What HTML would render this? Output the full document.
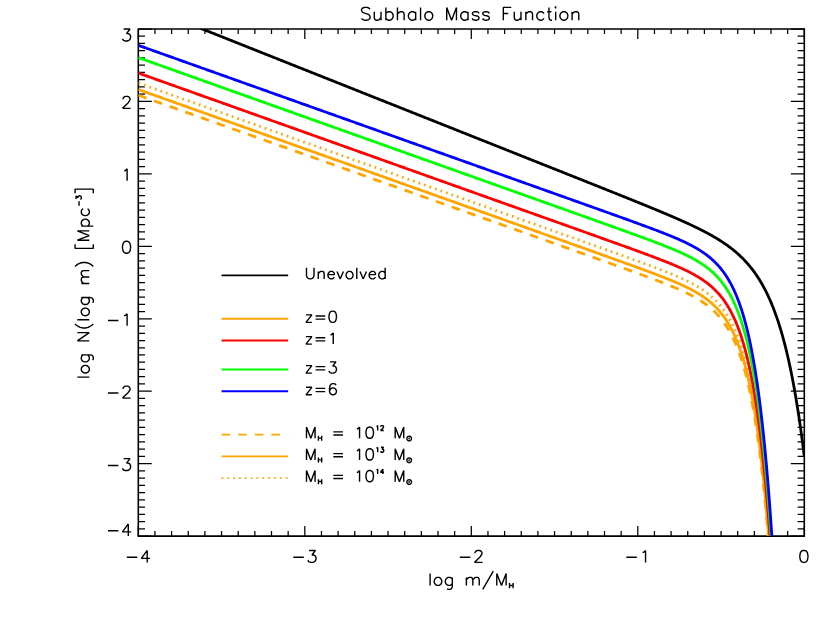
<!DOCTYPE html>
<html><head><meta charset="utf-8"><title>Subhalo Mass Function</title>
<style>html,body{margin:0;padding:0;background:#fff;font-family:"Liberation Sans",sans-serif}svg{display:block}</style></head><body>
<svg width="830" height="624" viewBox="0 0 830 624">
<rect width="830" height="624" fill="#fff"/>
<defs><clipPath id="c"><rect x="138.30" y="29.00" width="666.70" height="507.10"/></clipPath></defs>
<path d="M138.30 29.00 H804.30 V536.10 H138.30 Z" fill="none" stroke="#000" stroke-width="1.6"/>
<path d="M138.30 536.10 v-10.00 M138.30 29.00 v10.00 M154.95 536.10 v-5.00 M154.95 29.00 v5.00 M171.60 536.10 v-5.00 M171.60 29.00 v5.00 M188.25 536.10 v-5.00 M188.25 29.00 v5.00 M204.90 536.10 v-5.00 M204.90 29.00 v5.00 M221.55 536.10 v-5.00 M221.55 29.00 v5.00 M238.20 536.10 v-5.00 M238.20 29.00 v5.00 M254.85 536.10 v-5.00 M254.85 29.00 v5.00 M271.50 536.10 v-5.00 M271.50 29.00 v5.00 M288.15 536.10 v-5.00 M288.15 29.00 v5.00 M304.80 536.10 v-10.00 M304.80 29.00 v10.00 M321.45 536.10 v-5.00 M321.45 29.00 v5.00 M338.10 536.10 v-5.00 M338.10 29.00 v5.00 M354.75 536.10 v-5.00 M354.75 29.00 v5.00 M371.40 536.10 v-5.00 M371.40 29.00 v5.00 M388.05 536.10 v-5.00 M388.05 29.00 v5.00 M404.70 536.10 v-5.00 M404.70 29.00 v5.00 M421.35 536.10 v-5.00 M421.35 29.00 v5.00 M438.00 536.10 v-5.00 M438.00 29.00 v5.00 M454.65 536.10 v-5.00 M454.65 29.00 v5.00 M471.30 536.10 v-10.00 M471.30 29.00 v10.00 M487.95 536.10 v-5.00 M487.95 29.00 v5.00 M504.60 536.10 v-5.00 M504.60 29.00 v5.00 M521.25 536.10 v-5.00 M521.25 29.00 v5.00 M537.90 536.10 v-5.00 M537.90 29.00 v5.00 M554.55 536.10 v-5.00 M554.55 29.00 v5.00 M571.20 536.10 v-5.00 M571.20 29.00 v5.00 M587.85 536.10 v-5.00 M587.85 29.00 v5.00 M604.50 536.10 v-5.00 M604.50 29.00 v5.00 M621.15 536.10 v-5.00 M621.15 29.00 v5.00 M637.80 536.10 v-10.00 M637.80 29.00 v10.00 M654.45 536.10 v-5.00 M654.45 29.00 v5.00 M671.10 536.10 v-5.00 M671.10 29.00 v5.00 M687.75 536.10 v-5.00 M687.75 29.00 v5.00 M704.40 536.10 v-5.00 M704.40 29.00 v5.00 M721.05 536.10 v-5.00 M721.05 29.00 v5.00 M737.70 536.10 v-5.00 M737.70 29.00 v5.00 M754.35 536.10 v-5.00 M754.35 29.00 v5.00 M771.00 536.10 v-5.00 M771.00 29.00 v5.00 M787.65 536.10 v-5.00 M787.65 29.00 v5.00 M804.30 536.10 v-10.00 M804.30 29.00 v10.00 M138.30 536.10 h13.50 M804.30 536.10 h-13.50 M138.30 528.86 h6.70 M804.30 528.86 h-6.70 M138.30 521.61 h6.70 M804.30 521.61 h-6.70 M138.30 514.37 h6.70 M804.30 514.37 h-6.70 M138.30 507.12 h6.70 M804.30 507.12 h-6.70 M138.30 499.88 h6.70 M804.30 499.88 h-6.70 M138.30 492.63 h6.70 M804.30 492.63 h-6.70 M138.30 485.39 h6.70 M804.30 485.39 h-6.70 M138.30 478.15 h6.70 M804.30 478.15 h-6.70 M138.30 470.90 h6.70 M804.30 470.90 h-6.70 M138.30 463.66 h13.50 M804.30 463.66 h-13.50 M138.30 456.41 h6.70 M804.30 456.41 h-6.70 M138.30 449.17 h6.70 M804.30 449.17 h-6.70 M138.30 441.92 h6.70 M804.30 441.92 h-6.70 M138.30 434.68 h6.70 M804.30 434.68 h-6.70 M138.30 427.44 h6.70 M804.30 427.44 h-6.70 M138.30 420.19 h6.70 M804.30 420.19 h-6.70 M138.30 412.95 h6.70 M804.30 412.95 h-6.70 M138.30 405.70 h6.70 M804.30 405.70 h-6.70 M138.30 398.46 h6.70 M804.30 398.46 h-6.70 M138.30 391.21 h13.50 M804.30 391.21 h-13.50 M138.30 383.97 h6.70 M804.30 383.97 h-6.70 M138.30 376.73 h6.70 M804.30 376.73 h-6.70 M138.30 369.48 h6.70 M804.30 369.48 h-6.70 M138.30 362.24 h6.70 M804.30 362.24 h-6.70 M138.30 354.99 h6.70 M804.30 354.99 h-6.70 M138.30 347.75 h6.70 M804.30 347.75 h-6.70 M138.30 340.50 h6.70 M804.30 340.50 h-6.70 M138.30 333.26 h6.70 M804.30 333.26 h-6.70 M138.30 326.02 h6.70 M804.30 326.02 h-6.70 M138.30 318.77 h13.50 M804.30 318.77 h-13.50 M138.30 311.53 h6.70 M804.30 311.53 h-6.70 M138.30 304.28 h6.70 M804.30 304.28 h-6.70 M138.30 297.04 h6.70 M804.30 297.04 h-6.70 M138.30 289.79 h6.70 M804.30 289.79 h-6.70 M138.30 282.55 h6.70 M804.30 282.55 h-6.70 M138.30 275.31 h6.70 M804.30 275.31 h-6.70 M138.30 268.06 h6.70 M804.30 268.06 h-6.70 M138.30 260.82 h6.70 M804.30 260.82 h-6.70 M138.30 253.57 h6.70 M804.30 253.57 h-6.70 M138.30 246.33 h13.50 M804.30 246.33 h-13.50 M138.30 239.08 h6.70 M804.30 239.08 h-6.70 M138.30 231.84 h6.70 M804.30 231.84 h-6.70 M138.30 224.60 h6.70 M804.30 224.60 h-6.70 M138.30 217.35 h6.70 M804.30 217.35 h-6.70 M138.30 210.11 h6.70 M804.30 210.11 h-6.70 M138.30 202.86 h6.70 M804.30 202.86 h-6.70 M138.30 195.62 h6.70 M804.30 195.62 h-6.70 M138.30 188.37 h6.70 M804.30 188.37 h-6.70 M138.30 181.13 h6.70 M804.30 181.13 h-6.70 M138.30 173.89 h13.50 M804.30 173.89 h-13.50 M138.30 166.64 h6.70 M804.30 166.64 h-6.70 M138.30 159.40 h6.70 M804.30 159.40 h-6.70 M138.30 152.15 h6.70 M804.30 152.15 h-6.70 M138.30 144.91 h6.70 M804.30 144.91 h-6.70 M138.30 137.66 h6.70 M804.30 137.66 h-6.70 M138.30 130.42 h6.70 M804.30 130.42 h-6.70 M138.30 123.18 h6.70 M804.30 123.18 h-6.70 M138.30 115.93 h6.70 M804.30 115.93 h-6.70 M138.30 108.69 h6.70 M804.30 108.69 h-6.70 M138.30 101.44 h13.50 M804.30 101.44 h-13.50 M138.30 94.20 h6.70 M804.30 94.20 h-6.70 M138.30 86.95 h6.70 M804.30 86.95 h-6.70 M138.30 79.71 h6.70 M804.30 79.71 h-6.70 M138.30 72.47 h6.70 M804.30 72.47 h-6.70 M138.30 65.22 h6.70 M804.30 65.22 h-6.70 M138.30 57.98 h6.70 M804.30 57.98 h-6.70 M138.30 50.73 h6.70 M804.30 50.73 h-6.70 M138.30 43.49 h6.70 M804.30 43.49 h-6.70 M138.30 36.24 h6.70 M804.30 36.24 h-6.70 M138.30 29.00 h13.50 M804.30 29.00 h-13.50" fill="none" stroke="#000" stroke-width="1.25" stroke-linecap="butt"/>
<g clip-path="url(#c)" fill="none" stroke-width="2.80" stroke-linejoin="round">
<path d="M138.30 95.20 L139.04 95.46 L139.78 95.73 L140.52 95.99 L141.26 96.25 L142.00 96.52 L142.74 96.78 L143.48 97.05 L144.22 97.31 L144.96 97.57 L145.70 97.84 L146.44 98.10 L147.18 98.36 L147.92 98.63 L148.66 98.89 L149.40 99.15 L150.14 99.42 L150.88 99.68 L151.62 99.95 L152.36 100.21 L153.10 100.47 L153.84 100.74 L154.58 101.00 L155.32 101.26 L156.06 101.53 L156.80 101.79 L157.54 102.06 L158.28 102.32 L159.02 102.58 L159.76 102.85 L160.50 103.11 L161.24 103.37 L161.98 103.64 L162.72 103.90 L163.46 104.16 L164.20 104.43 L164.94 104.69 L165.68 104.96 L166.42 105.22 L167.16 105.48 L167.90 105.75 L168.64 106.01 L169.38 106.27 L170.12 106.54 L170.86 106.80 L171.60 107.06 L172.34 107.33 L173.08 107.59 L173.82 107.86 L174.56 108.12 L175.30 108.38 L176.04 108.65 L176.78 108.91 L177.52 109.17 L178.26 109.44 L179.00 109.70 L179.74 109.97 L180.48 110.23 L181.22 110.49 L181.96 110.76 L182.70 111.02 L183.44 111.28 L184.18 111.55 L184.92 111.81 L185.66 112.07 L186.40 112.34 L187.14 112.60 L187.88 112.87 L188.62 113.13 L189.36 113.39 L190.10 113.66 L190.84 113.92 L191.58 114.18 L192.32 114.45 L193.06 114.71 L193.80 114.97 L194.54 115.24 L195.28 115.50 L196.02 115.77 L196.76 116.03 L197.50 116.29 L198.24 116.56 L198.98 116.82 L199.72 117.08 L200.46 117.35 L201.20 117.61 L201.94 117.87 L202.68 118.14 L203.42 118.40 L204.16 118.67 L204.90 118.93 L205.64 119.19 L206.38 119.46 L207.12 119.72 L207.86 119.98 L208.60 120.25 L209.34 120.51 L210.08 120.78 L210.82 121.04 L211.56 121.30 L212.30 121.57 L213.04 121.83 L213.78 122.09 L214.52 122.36 L215.26 122.62 L216.00 122.88 L216.74 123.15 L217.48 123.41 L218.22 123.68 L218.96 123.94 L219.70 124.20 L220.44 124.47 L221.18 124.73 L221.92 124.99 L222.66 125.26 L223.40 125.52 L224.14 125.78 L224.88 126.05 L225.62 126.31 L226.36 126.58 L227.10 126.84 L227.84 127.10 L228.58 127.37 L229.32 127.63 L230.06 127.89 L230.80 128.16 L231.54 128.42 L232.28 128.69 L233.02 128.95 L233.76 129.21 L234.50 129.48 L235.24 129.74 L235.98 130.00 L236.72 130.27 L237.46 130.53 L238.20 130.79 L238.94 131.06 L239.68 131.32 L240.42 131.59 L241.16 131.85 L241.90 132.11 L242.64 132.38 L243.38 132.64 L244.12 132.90 L244.86 133.17 L245.60 133.43 L246.34 133.69 L247.08 133.96 L247.82 134.22 L248.56 134.49 L249.30 134.75 L250.04 135.01 L250.78 135.28 L251.52 135.54 L252.26 135.80 L253.00 136.07 L253.74 136.33 L254.48 136.59 L255.22 136.86 L255.96 137.12 L256.70 137.39 L257.44 137.65 L258.18 137.91 L258.92 138.18 L259.66 138.44 L260.40 138.70 L261.14 138.97 L261.88 139.23 L262.62 139.50 L263.36 139.76 L264.10 140.02 L264.84 140.29 L265.58 140.55 L266.32 140.81 L267.06 141.08 L267.80 141.34 L268.54 141.60 L269.28 141.87 L270.02 142.13 L270.76 142.40 L271.50 142.66 L272.24 142.92 L272.98 143.19 L273.72 143.45 L274.46 143.71 L275.20 143.98 L275.94 144.24 L276.68 144.50 L277.42 144.77 L278.16 145.03 L278.90 145.30 L279.64 145.56 L280.38 145.82 L281.12 146.09 L281.86 146.35 L282.60 146.61 L283.34 146.88 L284.08 147.14 L284.82 147.41 L285.56 147.67 L286.30 147.93 L287.04 148.20 L287.78 148.46 L288.52 148.72 L289.26 148.99 L290.00 149.25 L290.74 149.51 L291.48 149.78 L292.22 150.04 L292.96 150.31 L293.70 150.57 L294.44 150.83 L295.18 151.10 L295.92 151.36 L296.66 151.62 L297.40 151.89 L298.14 152.15 L298.88 152.41 L299.62 152.68 L300.36 152.94 L301.10 153.21 L301.84 153.47 L302.58 153.73 L303.32 154.00 L304.06 154.26 L304.80 154.52 L305.54 154.79 L306.28 155.05 L307.02 155.31 L307.76 155.58 L308.50 155.84 L309.24 156.11 L309.98 156.37 L310.72 156.63 L311.46 156.90 L312.20 157.16 L312.94 157.42 L313.68 157.69 L314.42 157.95 L315.16 158.22 L315.90 158.48 L316.64 158.74 L317.38 159.01 L318.12 159.27 L318.86 159.53 L319.60 159.80 L320.34 160.06 L321.08 160.32 L321.82 160.59 L322.56 160.85 L323.30 161.12 L324.04 161.38 L324.78 161.64 L325.52 161.91 L326.26 162.17 L327.00 162.43 L327.74 162.70 L328.48 162.96 L329.22 163.22 L329.96 163.49 L330.70 163.75 L331.44 164.02 L332.18 164.28 L332.92 164.54 L333.66 164.81 L334.40 165.07 L335.14 165.33 L335.88 165.60 L336.62 165.86 L337.36 166.13 L338.10 166.39 L338.84 166.65 L339.58 166.92 L340.32 167.18 L341.06 167.44 L341.80 167.71 L342.54 167.97 L343.28 168.23 L344.02 168.50 L344.76 168.76 L345.50 169.03 L346.24 169.29 L346.98 169.55 L347.72 169.82 L348.46 170.08 L349.20 170.34 L349.94 170.61 L350.68 170.87 L351.42 171.13 L352.16 171.40 L352.90 171.66 L353.64 171.93 L354.38 172.19 L355.12 172.45 L355.86 172.72 L356.60 172.98 L357.34 173.24 L358.08 173.51 L358.82 173.77 L359.56 174.03 L360.30 174.30 L361.04 174.56 L361.78 174.83 L362.52 175.09 L363.26 175.35 L364.00 175.62 L364.74 175.88 L365.48 176.14 L366.22 176.41 L366.96 176.67 L367.70 176.94 L368.44 177.20 L369.18 177.46 L369.92 177.73 L370.66 177.99 L371.40 178.25 L372.14 178.52 L372.88 178.78 L373.62 179.04 L374.36 179.31 L375.10 179.57 L375.84 179.84 L376.58 180.10 L377.32 180.36 L378.06 180.63 L378.80 180.89 L379.54 181.15 L380.28 181.42 L381.02 181.68 L381.76 181.94 L382.50 182.21 L383.24 182.47 L383.98 182.74 L384.72 183.00 L385.46 183.26 L386.20 183.53 L386.94 183.79 L387.68 184.05 L388.42 184.32 L389.16 184.58 L389.90 184.85 L390.64 185.11 L391.38 185.37 L392.12 185.64 L392.86 185.90 L393.60 186.16 L394.34 186.43 L395.08 186.69 L395.82 186.95 L396.56 187.22 L397.30 187.48 L398.04 187.75 L398.78 188.01 L399.52 188.27 L400.26 188.54 L401.00 188.80 L401.74 189.06 L402.48 189.33 L403.22 189.59 L403.96 189.85 L404.70 190.12 L405.44 190.38 L406.18 190.65 L406.92 190.91 L407.66 191.17 L408.40 191.44 L409.14 191.70 L409.88 191.96 L410.62 192.23 L411.36 192.49 L412.10 192.75 L412.84 193.02 L413.58 193.28 L414.32 193.55 L415.06 193.81 L415.80 194.07 L416.54 194.34 L417.28 194.60 L418.02 194.86 L418.76 195.13 L419.50 195.39 L420.24 195.66 L420.98 195.92 L421.72 196.18 L422.46 196.45 L423.20 196.71 L423.94 196.97 L424.68 197.24 L425.42 197.50 L426.16 197.76 L426.90 198.03 L427.64 198.29 L428.38 198.56 L429.12 198.82 L429.86 199.08 L430.60 199.35 L431.34 199.61 L432.08 199.87 L432.82 200.14 L433.56 200.40 L434.30 200.66 L435.04 200.93 L435.78 201.19 L436.52 201.46 L437.26 201.72 L438.00 201.98 L438.74 202.25 L439.48 202.51 L440.22 202.77 L440.96 203.04 L441.70 203.30 L442.44 203.57 L443.18 203.83 L443.92 204.09 L444.66 204.36 L445.40 204.62 L446.14 204.88 L446.88 205.15 L447.62 205.41 L448.36 205.67 L449.10 205.94 L449.84 206.20 L450.58 206.47 L451.32 206.73 L452.06 206.99 L452.80 207.26 L453.54 207.52 L454.28 207.78 L455.02 208.05 L455.76 208.31 L456.50 208.57 L457.24 208.84 L457.98 209.10 L458.72 209.37 L459.46 209.63 L460.20 209.89 L460.94 210.16 L461.68 210.42 L462.42 210.68 L463.16 210.95 L463.90 211.21 L464.64 211.47 L465.38 211.74 L466.12 212.00 L466.86 212.27 L467.60 212.53 L468.34 212.79 L469.08 213.06 L469.82 213.32 L470.56 213.58 L471.30 213.85 L472.04 214.11 L472.78 214.38 L473.52 214.64 L474.26 214.90 L475.00 215.17 L475.74 215.43 L476.48 215.69 L477.22 215.96 L477.96 216.22 L478.70 216.48 L479.44 216.75 L480.18 217.01 L480.92 217.28 L481.66 217.54 L482.40 217.80 L483.14 218.07 L483.88 218.33 L484.62 218.59 L485.36 218.86 L486.10 219.12 L486.84 219.38 L487.58 219.65 L488.32 219.91 L489.06 220.18 L489.80 220.44 L490.54 220.70 L491.28 220.97 L492.02 221.23 L492.76 221.49 L493.50 221.76 L494.24 222.02 L494.98 222.29 L495.72 222.55 L496.46 222.81 L497.20 223.08 L497.94 223.34 L498.68 223.60 L499.42 223.87 L500.16 224.13 L500.90 224.39 L501.64 224.66 L502.38 224.92 L503.12 225.19 L503.86 225.45 L504.60 225.71 L505.34 225.98 L506.08 226.24 L506.82 226.50 L507.56 226.77 L508.30 227.03 L509.04 227.29 L509.78 227.56 L510.52 227.82 L511.26 228.09 L512.00 228.35 L512.74 228.61 L513.48 228.88 L514.22 229.14 L514.96 229.40 L515.70 229.67 L516.44 229.93 L517.18 230.20 L517.92 230.46 L518.66 230.72 L519.40 230.99 L520.14 231.25 L520.88 231.51 L521.62 231.78 L522.36 232.04 L523.10 232.30 L523.84 232.57 L524.58 232.83 L525.32 233.10 L526.06 233.36 L526.80 233.62 L527.54 233.89 L528.28 234.15 L529.02 234.41 L529.76 234.68 L530.50 234.94 L531.24 235.20 L531.98 235.47 L532.72 235.73 L533.46 236.00 L534.20 236.26 L534.94 236.52 L535.68 236.79 L536.42 237.05 L537.16 237.31 L537.90 237.58 L538.64 237.84 L539.38 238.11 L540.12 238.37 L540.86 238.63 L541.60 238.90 L542.34 239.16 L543.08 239.42 L543.82 239.69 L544.56 239.95 L545.30 240.22 L546.04 240.48 L546.78 240.74 L547.52 241.01 L548.26 241.27 L549.00 241.53 L549.74 241.80 L550.48 242.06 L551.22 242.32 L551.96 242.59 L552.70 242.85 L553.44 243.12 L554.18 243.38 L554.92 243.64 L555.66 243.91 L556.40 244.17 L557.14 244.43 L557.88 244.70 L558.62 244.96 L559.36 245.23 L560.10 245.49 L560.84 245.75 L561.58 246.02 L562.32 246.28 L563.06 246.54 L563.80 246.81 L564.54 247.07 L565.28 247.34 L566.02 247.60 L566.76 247.86 L567.50 248.13 L568.24 248.39 L568.98 248.65 L569.72 248.92 L570.46 249.18 L571.20 249.45 L571.94 249.71 L572.68 249.97 L573.42 250.24 L574.16 250.50 L574.90 250.77 L575.64 251.03 L576.38 251.29 L577.12 251.56 L577.86 251.82 L578.60 252.08 L579.34 252.35 L580.08 252.61 L580.82 252.88 L581.56 253.14 L582.30 253.40 L583.04 253.67 L583.78 253.93 L584.52 254.20 L585.26 254.46 L586.00 254.72 L586.74 254.99 L587.48 255.25 L588.22 255.52 L588.96 255.78 L589.70 256.04 L590.44 256.31 L591.18 256.57 L591.92 256.84 L592.66 257.10 L593.40 257.37 L594.14 257.63 L594.88 257.89 L595.62 258.16 L596.36 258.42 L597.10 258.69 L597.84 258.95 L598.58 259.22 L599.32 259.48 L600.06 259.74 L600.80 260.01 L601.54 260.27 L602.28 260.54 L603.02 260.80 L603.76 261.07 L604.50 261.33 L605.24 261.60 L605.98 261.86 L606.72 262.13 L607.46 262.39 L608.20 262.66 L608.94 262.92 L609.68 263.19 L610.42 263.45 L611.16 263.72 L611.90 263.98 L612.64 264.25 L613.38 264.51 L614.12 264.78 L614.86 265.04 L615.60 265.31 L616.34 265.57 L617.08 265.84 L617.82 266.11 L618.56 266.37 L619.30 266.64 L620.04 266.90 L620.78 267.17 L621.52 267.44 L622.26 267.70 L623.00 267.97 L623.74 268.24 L624.48 268.50 L625.22 268.77 L625.96 269.04 L626.70 269.30 L627.44 269.57 L628.18 269.84 L628.92 270.11 L629.66 270.37 L630.40 270.64 L631.14 270.91 L631.88 271.18 L632.62 271.45 L633.36 271.71 L634.10 271.98 L634.84 272.25 L635.58 272.52 L636.32 272.79 L637.06 273.06 L637.80 273.33 L638.54 273.60 L639.28 273.87 L640.02 274.14 L640.76 274.41 L641.50 274.69 L642.24 274.96 L642.98 275.23 L643.72 275.50 L644.46 275.78 L645.20 276.05 L645.94 276.32 L646.68 276.60 L647.42 276.87 L648.16 277.15 L648.90 277.42 L649.64 277.70 L650.38 277.97 L651.12 278.25 L651.86 278.53 L652.60 278.81 L653.34 279.09 L654.08 279.36 L654.82 279.64 L655.56 279.93 L656.30 280.21 L657.04 280.49 L657.78 280.77 L658.52 281.06 L659.26 281.34 L660.00 281.63 L660.74 281.91 L661.48 282.20 L662.22 282.49 L662.96 282.78 L663.70 283.07 L664.44 283.36 L665.18 283.65 L665.92 283.95 L666.66 284.24 L667.40 284.54 L668.14 284.84 L668.88 285.14 L669.62 285.44 L670.36 285.74 L671.10 286.04 L671.84 286.35 L672.58 286.66 L673.32 286.96 L674.06 287.28 L674.80 287.59 L675.54 287.90 L676.28 288.22 L677.02 288.54 L677.76 288.86 L678.50 289.19 L679.24 289.51 L679.98 289.84 L680.72 290.18 L681.46 290.51 L682.20 290.85 L682.94 291.19 L683.68 291.54 L684.42 291.88 L685.16 292.23 L685.90 292.59 L686.64 292.95 L687.38 293.31 L688.12 293.68 L688.86 294.05 L689.60 294.43 L690.34 294.81 L691.08 295.19 L691.82 295.58 L692.56 295.98 L693.30 296.38 L694.04 296.79 L694.78 297.20 L695.52 297.62 L696.26 298.05 L697.00 298.48 L697.74 298.92 L698.48 299.37 L699.22 299.82 L699.96 300.28 L700.70 300.75 L701.44 301.23 L702.18 301.72 L702.92 302.22 L703.66 302.73 L704.40 303.25 L705.14 303.78 L705.88 304.31 L706.62 304.87 L707.36 305.43 L708.10 306.01 L708.84 306.59 L709.58 307.20 L710.32 307.81 L711.06 308.45 L711.80 309.09 L712.54 309.76 L713.28 310.43 L714.02 311.13 L714.76 311.85 L715.50 312.58 L716.24 313.33 L716.98 314.11 L717.72 314.90 L718.46 315.72 L719.20 316.56 L719.94 317.43 L720.68 318.32 L721.42 319.23 L722.16 320.18 L722.90 321.15 L723.64 322.15 L724.38 323.18 L725.12 324.25 L725.86 325.34 L726.60 326.48 L727.34 327.64 L728.08 328.85 L728.82 330.10 L729.56 331.38 L730.30 332.71 L731.04 334.09 L731.78 335.51 L732.52 336.98 L733.26 338.50 L734.00 340.07 L734.74 341.70 L735.48 343.38 L736.22 345.12 L736.96 346.93 L737.70 348.80 L738.44 350.74 L739.18 352.74 L739.92 354.82 L740.66 356.98 L741.40 359.21 L742.14 361.53 L742.88 363.93 L743.62 366.42 L744.36 369.00 L745.10 371.69 L745.84 374.47 L746.58 377.36 L747.32 380.35 L748.06 383.47 L748.80 386.70 L749.54 390.05 L750.28 393.53 L751.02 397.15 L751.76 400.91 L752.50 404.82 L753.24 408.87 L753.98 413.09 L754.72 417.47 L755.46 422.02 L756.20 426.75 L756.94 431.67 L757.68 436.78 L758.42 442.10 L759.16 447.62 L759.90 453.37 L760.64 459.35 L761.38 465.56 L762.12 472.02 L762.86 478.74 L763.60 485.74 L764.34 493.01 L765.08 500.57 L765.82 508.44 L766.56 516.63 L767.30 525.15 L768.04 534.02 L768.78 543.24 L769.52 552.84 L770.26 562.83 L771.00 573.22 L771.74 584.04" stroke="#ffa500" stroke-dasharray="8.6 8.03" stroke-dashoffset="0"/>
<path d="M138.30 89.50 L139.04 89.76 L139.78 90.03 L140.52 90.29 L141.26 90.55 L142.00 90.82 L142.74 91.08 L143.48 91.35 L144.22 91.61 L144.96 91.87 L145.70 92.14 L146.44 92.40 L147.18 92.66 L147.92 92.93 L148.66 93.19 L149.40 93.45 L150.14 93.72 L150.88 93.98 L151.62 94.25 L152.36 94.51 L153.10 94.77 L153.84 95.04 L154.58 95.30 L155.32 95.56 L156.06 95.83 L156.80 96.09 L157.54 96.36 L158.28 96.62 L159.02 96.88 L159.76 97.15 L160.50 97.41 L161.24 97.67 L161.98 97.94 L162.72 98.20 L163.46 98.46 L164.20 98.73 L164.94 98.99 L165.68 99.26 L166.42 99.52 L167.16 99.78 L167.90 100.05 L168.64 100.31 L169.38 100.57 L170.12 100.84 L170.86 101.10 L171.60 101.36 L172.34 101.63 L173.08 101.89 L173.82 102.16 L174.56 102.42 L175.30 102.68 L176.04 102.95 L176.78 103.21 L177.52 103.47 L178.26 103.74 L179.00 104.00 L179.74 104.27 L180.48 104.53 L181.22 104.79 L181.96 105.06 L182.70 105.32 L183.44 105.58 L184.18 105.85 L184.92 106.11 L185.66 106.37 L186.40 106.64 L187.14 106.90 L187.88 107.17 L188.62 107.43 L189.36 107.69 L190.10 107.96 L190.84 108.22 L191.58 108.48 L192.32 108.75 L193.06 109.01 L193.80 109.27 L194.54 109.54 L195.28 109.80 L196.02 110.07 L196.76 110.33 L197.50 110.59 L198.24 110.86 L198.98 111.12 L199.72 111.38 L200.46 111.65 L201.20 111.91 L201.94 112.17 L202.68 112.44 L203.42 112.70 L204.16 112.97 L204.90 113.23 L205.64 113.49 L206.38 113.76 L207.12 114.02 L207.86 114.28 L208.60 114.55 L209.34 114.81 L210.08 115.08 L210.82 115.34 L211.56 115.60 L212.30 115.87 L213.04 116.13 L213.78 116.39 L214.52 116.66 L215.26 116.92 L216.00 117.18 L216.74 117.45 L217.48 117.71 L218.22 117.98 L218.96 118.24 L219.70 118.50 L220.44 118.77 L221.18 119.03 L221.92 119.29 L222.66 119.56 L223.40 119.82 L224.14 120.08 L224.88 120.35 L225.62 120.61 L226.36 120.88 L227.10 121.14 L227.84 121.40 L228.58 121.67 L229.32 121.93 L230.06 122.19 L230.80 122.46 L231.54 122.72 L232.28 122.99 L233.02 123.25 L233.76 123.51 L234.50 123.78 L235.24 124.04 L235.98 124.30 L236.72 124.57 L237.46 124.83 L238.20 125.09 L238.94 125.36 L239.68 125.62 L240.42 125.89 L241.16 126.15 L241.90 126.41 L242.64 126.68 L243.38 126.94 L244.12 127.20 L244.86 127.47 L245.60 127.73 L246.34 127.99 L247.08 128.26 L247.82 128.52 L248.56 128.79 L249.30 129.05 L250.04 129.31 L250.78 129.58 L251.52 129.84 L252.26 130.10 L253.00 130.37 L253.74 130.63 L254.48 130.89 L255.22 131.16 L255.96 131.42 L256.70 131.69 L257.44 131.95 L258.18 132.21 L258.92 132.48 L259.66 132.74 L260.40 133.00 L261.14 133.27 L261.88 133.53 L262.62 133.80 L263.36 134.06 L264.10 134.32 L264.84 134.59 L265.58 134.85 L266.32 135.11 L267.06 135.38 L267.80 135.64 L268.54 135.90 L269.28 136.17 L270.02 136.43 L270.76 136.70 L271.50 136.96 L272.24 137.22 L272.98 137.49 L273.72 137.75 L274.46 138.01 L275.20 138.28 L275.94 138.54 L276.68 138.80 L277.42 139.07 L278.16 139.33 L278.90 139.60 L279.64 139.86 L280.38 140.12 L281.12 140.39 L281.86 140.65 L282.60 140.91 L283.34 141.18 L284.08 141.44 L284.82 141.71 L285.56 141.97 L286.30 142.23 L287.04 142.50 L287.78 142.76 L288.52 143.02 L289.26 143.29 L290.00 143.55 L290.74 143.81 L291.48 144.08 L292.22 144.34 L292.96 144.61 L293.70 144.87 L294.44 145.13 L295.18 145.40 L295.92 145.66 L296.66 145.92 L297.40 146.19 L298.14 146.45 L298.88 146.71 L299.62 146.98 L300.36 147.24 L301.10 147.51 L301.84 147.77 L302.58 148.03 L303.32 148.30 L304.06 148.56 L304.80 148.82 L305.54 149.09 L306.28 149.35 L307.02 149.61 L307.76 149.88 L308.50 150.14 L309.24 150.41 L309.98 150.67 L310.72 150.93 L311.46 151.20 L312.20 151.46 L312.94 151.72 L313.68 151.99 L314.42 152.25 L315.16 152.52 L315.90 152.78 L316.64 153.04 L317.38 153.31 L318.12 153.57 L318.86 153.83 L319.60 154.10 L320.34 154.36 L321.08 154.62 L321.82 154.89 L322.56 155.15 L323.30 155.42 L324.04 155.68 L324.78 155.94 L325.52 156.21 L326.26 156.47 L327.00 156.73 L327.74 157.00 L328.48 157.26 L329.22 157.52 L329.96 157.79 L330.70 158.05 L331.44 158.32 L332.18 158.58 L332.92 158.84 L333.66 159.11 L334.40 159.37 L335.14 159.63 L335.88 159.90 L336.62 160.16 L337.36 160.43 L338.10 160.69 L338.84 160.95 L339.58 161.22 L340.32 161.48 L341.06 161.74 L341.80 162.01 L342.54 162.27 L343.28 162.53 L344.02 162.80 L344.76 163.06 L345.50 163.33 L346.24 163.59 L346.98 163.85 L347.72 164.12 L348.46 164.38 L349.20 164.64 L349.94 164.91 L350.68 165.17 L351.42 165.43 L352.16 165.70 L352.90 165.96 L353.64 166.23 L354.38 166.49 L355.12 166.75 L355.86 167.02 L356.60 167.28 L357.34 167.54 L358.08 167.81 L358.82 168.07 L359.56 168.33 L360.30 168.60 L361.04 168.86 L361.78 169.13 L362.52 169.39 L363.26 169.65 L364.00 169.92 L364.74 170.18 L365.48 170.44 L366.22 170.71 L366.96 170.97 L367.70 171.24 L368.44 171.50 L369.18 171.76 L369.92 172.03 L370.66 172.29 L371.40 172.55 L372.14 172.82 L372.88 173.08 L373.62 173.34 L374.36 173.61 L375.10 173.87 L375.84 174.14 L376.58 174.40 L377.32 174.66 L378.06 174.93 L378.80 175.19 L379.54 175.45 L380.28 175.72 L381.02 175.98 L381.76 176.24 L382.50 176.51 L383.24 176.77 L383.98 177.04 L384.72 177.30 L385.46 177.56 L386.20 177.83 L386.94 178.09 L387.68 178.35 L388.42 178.62 L389.16 178.88 L389.90 179.15 L390.64 179.41 L391.38 179.67 L392.12 179.94 L392.86 180.20 L393.60 180.46 L394.34 180.73 L395.08 180.99 L395.82 181.25 L396.56 181.52 L397.30 181.78 L398.04 182.05 L398.78 182.31 L399.52 182.57 L400.26 182.84 L401.00 183.10 L401.74 183.36 L402.48 183.63 L403.22 183.89 L403.96 184.15 L404.70 184.42 L405.44 184.68 L406.18 184.95 L406.92 185.21 L407.66 185.47 L408.40 185.74 L409.14 186.00 L409.88 186.26 L410.62 186.53 L411.36 186.79 L412.10 187.05 L412.84 187.32 L413.58 187.58 L414.32 187.85 L415.06 188.11 L415.80 188.37 L416.54 188.64 L417.28 188.90 L418.02 189.16 L418.76 189.43 L419.50 189.69 L420.24 189.96 L420.98 190.22 L421.72 190.48 L422.46 190.75 L423.20 191.01 L423.94 191.27 L424.68 191.54 L425.42 191.80 L426.16 192.06 L426.90 192.33 L427.64 192.59 L428.38 192.86 L429.12 193.12 L429.86 193.38 L430.60 193.65 L431.34 193.91 L432.08 194.17 L432.82 194.44 L433.56 194.70 L434.30 194.96 L435.04 195.23 L435.78 195.49 L436.52 195.76 L437.26 196.02 L438.00 196.28 L438.74 196.55 L439.48 196.81 L440.22 197.07 L440.96 197.34 L441.70 197.60 L442.44 197.87 L443.18 198.13 L443.92 198.39 L444.66 198.66 L445.40 198.92 L446.14 199.18 L446.88 199.45 L447.62 199.71 L448.36 199.97 L449.10 200.24 L449.84 200.50 L450.58 200.77 L451.32 201.03 L452.06 201.29 L452.80 201.56 L453.54 201.82 L454.28 202.08 L455.02 202.35 L455.76 202.61 L456.50 202.87 L457.24 203.14 L457.98 203.40 L458.72 203.67 L459.46 203.93 L460.20 204.19 L460.94 204.46 L461.68 204.72 L462.42 204.98 L463.16 205.25 L463.90 205.51 L464.64 205.77 L465.38 206.04 L466.12 206.30 L466.86 206.57 L467.60 206.83 L468.34 207.09 L469.08 207.36 L469.82 207.62 L470.56 207.88 L471.30 208.15 L472.04 208.41 L472.78 208.68 L473.52 208.94 L474.26 209.20 L475.00 209.47 L475.74 209.73 L476.48 209.99 L477.22 210.26 L477.96 210.52 L478.70 210.78 L479.44 211.05 L480.18 211.31 L480.92 211.58 L481.66 211.84 L482.40 212.10 L483.14 212.37 L483.88 212.63 L484.62 212.89 L485.36 213.16 L486.10 213.42 L486.84 213.68 L487.58 213.95 L488.32 214.21 L489.06 214.48 L489.80 214.74 L490.54 215.00 L491.28 215.27 L492.02 215.53 L492.76 215.79 L493.50 216.06 L494.24 216.32 L494.98 216.59 L495.72 216.85 L496.46 217.11 L497.20 217.38 L497.94 217.64 L498.68 217.90 L499.42 218.17 L500.16 218.43 L500.90 218.69 L501.64 218.96 L502.38 219.22 L503.12 219.49 L503.86 219.75 L504.60 220.01 L505.34 220.28 L506.08 220.54 L506.82 220.80 L507.56 221.07 L508.30 221.33 L509.04 221.59 L509.78 221.86 L510.52 222.12 L511.26 222.39 L512.00 222.65 L512.74 222.91 L513.48 223.18 L514.22 223.44 L514.96 223.70 L515.70 223.97 L516.44 224.23 L517.18 224.50 L517.92 224.76 L518.66 225.02 L519.40 225.29 L520.14 225.55 L520.88 225.81 L521.62 226.08 L522.36 226.34 L523.10 226.60 L523.84 226.87 L524.58 227.13 L525.32 227.40 L526.06 227.66 L526.80 227.92 L527.54 228.19 L528.28 228.45 L529.02 228.71 L529.76 228.98 L530.50 229.24 L531.24 229.50 L531.98 229.77 L532.72 230.03 L533.46 230.30 L534.20 230.56 L534.94 230.82 L535.68 231.09 L536.42 231.35 L537.16 231.61 L537.90 231.88 L538.64 232.14 L539.38 232.41 L540.12 232.67 L540.86 232.93 L541.60 233.20 L542.34 233.46 L543.08 233.72 L543.82 233.99 L544.56 234.25 L545.30 234.52 L546.04 234.78 L546.78 235.04 L547.52 235.31 L548.26 235.57 L549.00 235.83 L549.74 236.10 L550.48 236.36 L551.22 236.62 L551.96 236.89 L552.70 237.15 L553.44 237.42 L554.18 237.68 L554.92 237.94 L555.66 238.21 L556.40 238.47 L557.14 238.73 L557.88 239.00 L558.62 239.26 L559.36 239.53 L560.10 239.79 L560.84 240.05 L561.58 240.32 L562.32 240.58 L563.06 240.84 L563.80 241.11 L564.54 241.37 L565.28 241.64 L566.02 241.90 L566.76 242.16 L567.50 242.43 L568.24 242.69 L568.98 242.95 L569.72 243.22 L570.46 243.48 L571.20 243.75 L571.94 244.01 L572.68 244.27 L573.42 244.54 L574.16 244.80 L574.90 245.07 L575.64 245.33 L576.38 245.59 L577.12 245.86 L577.86 246.12 L578.60 246.38 L579.34 246.65 L580.08 246.91 L580.82 247.18 L581.56 247.44 L582.30 247.70 L583.04 247.97 L583.78 248.23 L584.52 248.50 L585.26 248.76 L586.00 249.02 L586.74 249.29 L587.48 249.55 L588.22 249.82 L588.96 250.08 L589.70 250.34 L590.44 250.61 L591.18 250.87 L591.92 251.14 L592.66 251.40 L593.40 251.67 L594.14 251.93 L594.88 252.19 L595.62 252.46 L596.36 252.72 L597.10 252.99 L597.84 253.25 L598.58 253.52 L599.32 253.78 L600.06 254.04 L600.80 254.31 L601.54 254.57 L602.28 254.84 L603.02 255.10 L603.76 255.37 L604.50 255.63 L605.24 255.90 L605.98 256.16 L606.72 256.43 L607.46 256.69 L608.20 256.96 L608.94 257.22 L609.68 257.49 L610.42 257.75 L611.16 258.02 L611.90 258.28 L612.64 258.55 L613.38 258.81 L614.12 259.08 L614.86 259.34 L615.60 259.61 L616.34 259.87 L617.08 260.14 L617.82 260.41 L618.56 260.67 L619.30 260.94 L620.04 261.20 L620.78 261.47 L621.52 261.74 L622.26 262.00 L623.00 262.27 L623.74 262.54 L624.48 262.80 L625.22 263.07 L625.96 263.34 L626.70 263.60 L627.44 263.87 L628.18 264.14 L628.92 264.41 L629.66 264.67 L630.40 264.94 L631.14 265.21 L631.88 265.48 L632.62 265.75 L633.36 266.01 L634.10 266.28 L634.84 266.55 L635.58 266.82 L636.32 267.09 L637.06 267.36 L637.80 267.63 L638.54 267.90 L639.28 268.17 L640.02 268.44 L640.76 268.71 L641.50 268.99 L642.24 269.26 L642.98 269.53 L643.72 269.80 L644.46 270.08 L645.20 270.35 L645.94 270.62 L646.68 270.90 L647.42 271.17 L648.16 271.45 L648.90 271.72 L649.64 272.00 L650.38 272.27 L651.12 272.55 L651.86 272.83 L652.60 273.11 L653.34 273.39 L654.08 273.66 L654.82 273.94 L655.56 274.23 L656.30 274.51 L657.04 274.79 L657.78 275.07 L658.52 275.36 L659.26 275.64 L660.00 275.93 L660.74 276.21 L661.48 276.50 L662.22 276.79 L662.96 277.08 L663.70 277.37 L664.44 277.66 L665.18 277.95 L665.92 278.25 L666.66 278.54 L667.40 278.84 L668.14 279.14 L668.88 279.44 L669.62 279.74 L670.36 280.04 L671.10 280.34 L671.84 280.65 L672.58 280.96 L673.32 281.26 L674.06 281.58 L674.80 281.89 L675.54 282.20 L676.28 282.52 L677.02 282.84 L677.76 283.16 L678.50 283.49 L679.24 283.81 L679.98 284.14 L680.72 284.48 L681.46 284.81 L682.20 285.15 L682.94 285.49 L683.68 285.84 L684.42 286.18 L685.16 286.53 L685.90 286.89 L686.64 287.25 L687.38 287.61 L688.12 287.98 L688.86 288.35 L689.60 288.73 L690.34 289.11 L691.08 289.49 L691.82 289.88 L692.56 290.28 L693.30 290.68 L694.04 291.09 L694.78 291.50 L695.52 291.92 L696.26 292.35 L697.00 292.78 L697.74 293.22 L698.48 293.67 L699.22 294.12 L699.96 294.58 L700.70 295.05 L701.44 295.53 L702.18 296.02 L702.92 296.52 L703.66 297.03 L704.40 297.55 L705.14 298.08 L705.88 298.61 L706.62 299.17 L707.36 299.73 L708.10 300.31 L708.84 300.89 L709.58 301.50 L710.32 302.11 L711.06 302.75 L711.80 303.39 L712.54 304.06 L713.28 304.73 L714.02 305.43 L714.76 306.15 L715.50 306.88 L716.24 307.63 L716.98 308.41 L717.72 309.20 L718.46 310.02 L719.20 310.86 L719.94 311.73 L720.68 312.62 L721.42 313.53 L722.16 314.48 L722.90 315.45 L723.64 316.45 L724.38 317.48 L725.12 318.55 L725.86 319.64 L726.60 320.78 L727.34 321.94 L728.08 323.15 L728.82 324.40 L729.56 325.68 L730.30 327.01 L731.04 328.39 L731.78 329.81 L732.52 331.28 L733.26 332.80 L734.00 334.37 L734.74 336.00 L735.48 337.68 L736.22 339.42 L736.96 341.23 L737.70 343.10 L738.44 345.04 L739.18 347.04 L739.92 349.12 L740.66 351.28 L741.40 353.51 L742.14 355.83 L742.88 358.23 L743.62 360.72 L744.36 363.30 L745.10 365.99 L745.84 368.77 L746.58 371.66 L747.32 374.65 L748.06 377.77 L748.80 381.00 L749.54 384.35 L750.28 387.83 L751.02 391.45 L751.76 395.21 L752.50 399.12 L753.24 403.17 L753.98 407.39 L754.72 411.77 L755.46 416.32 L756.20 421.05 L756.94 425.97 L757.68 431.08 L758.42 436.40 L759.16 441.92 L759.90 447.67 L760.64 453.65 L761.38 459.86 L762.12 466.32 L762.86 473.04 L763.60 480.04 L764.34 487.31 L765.08 494.87 L765.82 502.74 L766.56 510.93 L767.30 519.45 L768.04 528.32 L768.78 537.54 L769.52 547.14 L770.26 557.13 L771.00 567.52 L771.74 578.34 L772.48 589.60" stroke="#ffa500"/>
<path d="M138.30 83.00 L139.04 83.26 L139.78 83.53 L140.52 83.79 L141.26 84.05 L142.00 84.32 L142.74 84.58 L143.48 84.85 L144.22 85.11 L144.96 85.37 L145.70 85.64 L146.44 85.90 L147.18 86.16 L147.92 86.43 L148.66 86.69 L149.40 86.95 L150.14 87.22 L150.88 87.48 L151.62 87.75 L152.36 88.01 L153.10 88.27 L153.84 88.54 L154.58 88.80 L155.32 89.06 L156.06 89.33 L156.80 89.59 L157.54 89.86 L158.28 90.12 L159.02 90.38 L159.76 90.65 L160.50 90.91 L161.24 91.17 L161.98 91.44 L162.72 91.70 L163.46 91.96 L164.20 92.23 L164.94 92.49 L165.68 92.76 L166.42 93.02 L167.16 93.28 L167.90 93.55 L168.64 93.81 L169.38 94.07 L170.12 94.34 L170.86 94.60 L171.60 94.86 L172.34 95.13 L173.08 95.39 L173.82 95.66 L174.56 95.92 L175.30 96.18 L176.04 96.45 L176.78 96.71 L177.52 96.97 L178.26 97.24 L179.00 97.50 L179.74 97.77 L180.48 98.03 L181.22 98.29 L181.96 98.56 L182.70 98.82 L183.44 99.08 L184.18 99.35 L184.92 99.61 L185.66 99.87 L186.40 100.14 L187.14 100.40 L187.88 100.67 L188.62 100.93 L189.36 101.19 L190.10 101.46 L190.84 101.72 L191.58 101.98 L192.32 102.25 L193.06 102.51 L193.80 102.77 L194.54 103.04 L195.28 103.30 L196.02 103.57 L196.76 103.83 L197.50 104.09 L198.24 104.36 L198.98 104.62 L199.72 104.88 L200.46 105.15 L201.20 105.41 L201.94 105.67 L202.68 105.94 L203.42 106.20 L204.16 106.47 L204.90 106.73 L205.64 106.99 L206.38 107.26 L207.12 107.52 L207.86 107.78 L208.60 108.05 L209.34 108.31 L210.08 108.58 L210.82 108.84 L211.56 109.10 L212.30 109.37 L213.04 109.63 L213.78 109.89 L214.52 110.16 L215.26 110.42 L216.00 110.68 L216.74 110.95 L217.48 111.21 L218.22 111.48 L218.96 111.74 L219.70 112.00 L220.44 112.27 L221.18 112.53 L221.92 112.79 L222.66 113.06 L223.40 113.32 L224.14 113.58 L224.88 113.85 L225.62 114.11 L226.36 114.38 L227.10 114.64 L227.84 114.90 L228.58 115.17 L229.32 115.43 L230.06 115.69 L230.80 115.96 L231.54 116.22 L232.28 116.49 L233.02 116.75 L233.76 117.01 L234.50 117.28 L235.24 117.54 L235.98 117.80 L236.72 118.07 L237.46 118.33 L238.20 118.59 L238.94 118.86 L239.68 119.12 L240.42 119.39 L241.16 119.65 L241.90 119.91 L242.64 120.18 L243.38 120.44 L244.12 120.70 L244.86 120.97 L245.60 121.23 L246.34 121.49 L247.08 121.76 L247.82 122.02 L248.56 122.29 L249.30 122.55 L250.04 122.81 L250.78 123.08 L251.52 123.34 L252.26 123.60 L253.00 123.87 L253.74 124.13 L254.48 124.39 L255.22 124.66 L255.96 124.92 L256.70 125.19 L257.44 125.45 L258.18 125.71 L258.92 125.98 L259.66 126.24 L260.40 126.50 L261.14 126.77 L261.88 127.03 L262.62 127.30 L263.36 127.56 L264.10 127.82 L264.84 128.09 L265.58 128.35 L266.32 128.61 L267.06 128.88 L267.80 129.14 L268.54 129.40 L269.28 129.67 L270.02 129.93 L270.76 130.20 L271.50 130.46 L272.24 130.72 L272.98 130.99 L273.72 131.25 L274.46 131.51 L275.20 131.78 L275.94 132.04 L276.68 132.30 L277.42 132.57 L278.16 132.83 L278.90 133.10 L279.64 133.36 L280.38 133.62 L281.12 133.89 L281.86 134.15 L282.60 134.41 L283.34 134.68 L284.08 134.94 L284.82 135.21 L285.56 135.47 L286.30 135.73 L287.04 136.00 L287.78 136.26 L288.52 136.52 L289.26 136.79 L290.00 137.05 L290.74 137.31 L291.48 137.58 L292.22 137.84 L292.96 138.11 L293.70 138.37 L294.44 138.63 L295.18 138.90 L295.92 139.16 L296.66 139.42 L297.40 139.69 L298.14 139.95 L298.88 140.21 L299.62 140.48 L300.36 140.74 L301.10 141.01 L301.84 141.27 L302.58 141.53 L303.32 141.80 L304.06 142.06 L304.80 142.32 L305.54 142.59 L306.28 142.85 L307.02 143.11 L307.76 143.38 L308.50 143.64 L309.24 143.91 L309.98 144.17 L310.72 144.43 L311.46 144.70 L312.20 144.96 L312.94 145.22 L313.68 145.49 L314.42 145.75 L315.16 146.02 L315.90 146.28 L316.64 146.54 L317.38 146.81 L318.12 147.07 L318.86 147.33 L319.60 147.60 L320.34 147.86 L321.08 148.12 L321.82 148.39 L322.56 148.65 L323.30 148.92 L324.04 149.18 L324.78 149.44 L325.52 149.71 L326.26 149.97 L327.00 150.23 L327.74 150.50 L328.48 150.76 L329.22 151.02 L329.96 151.29 L330.70 151.55 L331.44 151.82 L332.18 152.08 L332.92 152.34 L333.66 152.61 L334.40 152.87 L335.14 153.13 L335.88 153.40 L336.62 153.66 L337.36 153.93 L338.10 154.19 L338.84 154.45 L339.58 154.72 L340.32 154.98 L341.06 155.24 L341.80 155.51 L342.54 155.77 L343.28 156.03 L344.02 156.30 L344.76 156.56 L345.50 156.83 L346.24 157.09 L346.98 157.35 L347.72 157.62 L348.46 157.88 L349.20 158.14 L349.94 158.41 L350.68 158.67 L351.42 158.93 L352.16 159.20 L352.90 159.46 L353.64 159.73 L354.38 159.99 L355.12 160.25 L355.86 160.52 L356.60 160.78 L357.34 161.04 L358.08 161.31 L358.82 161.57 L359.56 161.83 L360.30 162.10 L361.04 162.36 L361.78 162.63 L362.52 162.89 L363.26 163.15 L364.00 163.42 L364.74 163.68 L365.48 163.94 L366.22 164.21 L366.96 164.47 L367.70 164.74 L368.44 165.00 L369.18 165.26 L369.92 165.53 L370.66 165.79 L371.40 166.05 L372.14 166.32 L372.88 166.58 L373.62 166.84 L374.36 167.11 L375.10 167.37 L375.84 167.64 L376.58 167.90 L377.32 168.16 L378.06 168.43 L378.80 168.69 L379.54 168.95 L380.28 169.22 L381.02 169.48 L381.76 169.74 L382.50 170.01 L383.24 170.27 L383.98 170.54 L384.72 170.80 L385.46 171.06 L386.20 171.33 L386.94 171.59 L387.68 171.85 L388.42 172.12 L389.16 172.38 L389.90 172.65 L390.64 172.91 L391.38 173.17 L392.12 173.44 L392.86 173.70 L393.60 173.96 L394.34 174.23 L395.08 174.49 L395.82 174.75 L396.56 175.02 L397.30 175.28 L398.04 175.55 L398.78 175.81 L399.52 176.07 L400.26 176.34 L401.00 176.60 L401.74 176.86 L402.48 177.13 L403.22 177.39 L403.96 177.65 L404.70 177.92 L405.44 178.18 L406.18 178.45 L406.92 178.71 L407.66 178.97 L408.40 179.24 L409.14 179.50 L409.88 179.76 L410.62 180.03 L411.36 180.29 L412.10 180.55 L412.84 180.82 L413.58 181.08 L414.32 181.35 L415.06 181.61 L415.80 181.87 L416.54 182.14 L417.28 182.40 L418.02 182.66 L418.76 182.93 L419.50 183.19 L420.24 183.46 L420.98 183.72 L421.72 183.98 L422.46 184.25 L423.20 184.51 L423.94 184.77 L424.68 185.04 L425.42 185.30 L426.16 185.56 L426.90 185.83 L427.64 186.09 L428.38 186.36 L429.12 186.62 L429.86 186.88 L430.60 187.15 L431.34 187.41 L432.08 187.67 L432.82 187.94 L433.56 188.20 L434.30 188.46 L435.04 188.73 L435.78 188.99 L436.52 189.26 L437.26 189.52 L438.00 189.78 L438.74 190.05 L439.48 190.31 L440.22 190.57 L440.96 190.84 L441.70 191.10 L442.44 191.37 L443.18 191.63 L443.92 191.89 L444.66 192.16 L445.40 192.42 L446.14 192.68 L446.88 192.95 L447.62 193.21 L448.36 193.47 L449.10 193.74 L449.84 194.00 L450.58 194.27 L451.32 194.53 L452.06 194.79 L452.80 195.06 L453.54 195.32 L454.28 195.58 L455.02 195.85 L455.76 196.11 L456.50 196.37 L457.24 196.64 L457.98 196.90 L458.72 197.17 L459.46 197.43 L460.20 197.69 L460.94 197.96 L461.68 198.22 L462.42 198.48 L463.16 198.75 L463.90 199.01 L464.64 199.27 L465.38 199.54 L466.12 199.80 L466.86 200.07 L467.60 200.33 L468.34 200.59 L469.08 200.86 L469.82 201.12 L470.56 201.38 L471.30 201.65 L472.04 201.91 L472.78 202.18 L473.52 202.44 L474.26 202.70 L475.00 202.97 L475.74 203.23 L476.48 203.49 L477.22 203.76 L477.96 204.02 L478.70 204.28 L479.44 204.55 L480.18 204.81 L480.92 205.08 L481.66 205.34 L482.40 205.60 L483.14 205.87 L483.88 206.13 L484.62 206.39 L485.36 206.66 L486.10 206.92 L486.84 207.18 L487.58 207.45 L488.32 207.71 L489.06 207.98 L489.80 208.24 L490.54 208.50 L491.28 208.77 L492.02 209.03 L492.76 209.29 L493.50 209.56 L494.24 209.82 L494.98 210.09 L495.72 210.35 L496.46 210.61 L497.20 210.88 L497.94 211.14 L498.68 211.40 L499.42 211.67 L500.16 211.93 L500.90 212.19 L501.64 212.46 L502.38 212.72 L503.12 212.99 L503.86 213.25 L504.60 213.51 L505.34 213.78 L506.08 214.04 L506.82 214.30 L507.56 214.57 L508.30 214.83 L509.04 215.09 L509.78 215.36 L510.52 215.62 L511.26 215.89 L512.00 216.15 L512.74 216.41 L513.48 216.68 L514.22 216.94 L514.96 217.20 L515.70 217.47 L516.44 217.73 L517.18 218.00 L517.92 218.26 L518.66 218.52 L519.40 218.79 L520.14 219.05 L520.88 219.31 L521.62 219.58 L522.36 219.84 L523.10 220.10 L523.84 220.37 L524.58 220.63 L525.32 220.90 L526.06 221.16 L526.80 221.42 L527.54 221.69 L528.28 221.95 L529.02 222.21 L529.76 222.48 L530.50 222.74 L531.24 223.00 L531.98 223.27 L532.72 223.53 L533.46 223.80 L534.20 224.06 L534.94 224.32 L535.68 224.59 L536.42 224.85 L537.16 225.11 L537.90 225.38 L538.64 225.64 L539.38 225.91 L540.12 226.17 L540.86 226.43 L541.60 226.70 L542.34 226.96 L543.08 227.22 L543.82 227.49 L544.56 227.75 L545.30 228.02 L546.04 228.28 L546.78 228.54 L547.52 228.81 L548.26 229.07 L549.00 229.33 L549.74 229.60 L550.48 229.86 L551.22 230.12 L551.96 230.39 L552.70 230.65 L553.44 230.92 L554.18 231.18 L554.92 231.44 L555.66 231.71 L556.40 231.97 L557.14 232.23 L557.88 232.50 L558.62 232.76 L559.36 233.03 L560.10 233.29 L560.84 233.55 L561.58 233.82 L562.32 234.08 L563.06 234.34 L563.80 234.61 L564.54 234.87 L565.28 235.14 L566.02 235.40 L566.76 235.66 L567.50 235.93 L568.24 236.19 L568.98 236.45 L569.72 236.72 L570.46 236.98 L571.20 237.25 L571.94 237.51 L572.68 237.77 L573.42 238.04 L574.16 238.30 L574.90 238.57 L575.64 238.83 L576.38 239.09 L577.12 239.36 L577.86 239.62 L578.60 239.88 L579.34 240.15 L580.08 240.41 L580.82 240.68 L581.56 240.94 L582.30 241.20 L583.04 241.47 L583.78 241.73 L584.52 242.00 L585.26 242.26 L586.00 242.52 L586.74 242.79 L587.48 243.05 L588.22 243.32 L588.96 243.58 L589.70 243.84 L590.44 244.11 L591.18 244.37 L591.92 244.64 L592.66 244.90 L593.40 245.17 L594.14 245.43 L594.88 245.69 L595.62 245.96 L596.36 246.22 L597.10 246.49 L597.84 246.75 L598.58 247.02 L599.32 247.28 L600.06 247.54 L600.80 247.81 L601.54 248.07 L602.28 248.34 L603.02 248.60 L603.76 248.87 L604.50 249.13 L605.24 249.40 L605.98 249.66 L606.72 249.93 L607.46 250.19 L608.20 250.46 L608.94 250.72 L609.68 250.99 L610.42 251.25 L611.16 251.52 L611.90 251.78 L612.64 252.05 L613.38 252.31 L614.12 252.58 L614.86 252.84 L615.60 253.11 L616.34 253.37 L617.08 253.64 L617.82 253.91 L618.56 254.17 L619.30 254.44 L620.04 254.70 L620.78 254.97 L621.52 255.24 L622.26 255.50 L623.00 255.77 L623.74 256.04 L624.48 256.30 L625.22 256.57 L625.96 256.84 L626.70 257.10 L627.44 257.37 L628.18 257.64 L628.92 257.91 L629.66 258.17 L630.40 258.44 L631.14 258.71 L631.88 258.98 L632.62 259.25 L633.36 259.51 L634.10 259.78 L634.84 260.05 L635.58 260.32 L636.32 260.59 L637.06 260.86 L637.80 261.13 L638.54 261.40 L639.28 261.67 L640.02 261.94 L640.76 262.21 L641.50 262.49 L642.24 262.76 L642.98 263.03 L643.72 263.30 L644.46 263.58 L645.20 263.85 L645.94 264.12 L646.68 264.40 L647.42 264.67 L648.16 264.95 L648.90 265.22 L649.64 265.50 L650.38 265.77 L651.12 266.05 L651.86 266.33 L652.60 266.61 L653.34 266.89 L654.08 267.16 L654.82 267.44 L655.56 267.73 L656.30 268.01 L657.04 268.29 L657.78 268.57 L658.52 268.86 L659.26 269.14 L660.00 269.43 L660.74 269.71 L661.48 270.00 L662.22 270.29 L662.96 270.58 L663.70 270.87 L664.44 271.16 L665.18 271.45 L665.92 271.75 L666.66 272.04 L667.40 272.34 L668.14 272.64 L668.88 272.94 L669.62 273.24 L670.36 273.54 L671.10 273.84 L671.84 274.15 L672.58 274.46 L673.32 274.76 L674.06 275.08 L674.80 275.39 L675.54 275.70 L676.28 276.02 L677.02 276.34 L677.76 276.66 L678.50 276.99 L679.24 277.31 L679.98 277.64 L680.72 277.98 L681.46 278.31 L682.20 278.65 L682.94 278.99 L683.68 279.34 L684.42 279.68 L685.16 280.03 L685.90 280.39 L686.64 280.75 L687.38 281.11 L688.12 281.48 L688.86 281.85 L689.60 282.23 L690.34 282.61 L691.08 282.99 L691.82 283.38 L692.56 283.78 L693.30 284.18 L694.04 284.59 L694.78 285.00 L695.52 285.42 L696.26 285.85 L697.00 286.28 L697.74 286.72 L698.48 287.17 L699.22 287.62 L699.96 288.08 L700.70 288.55 L701.44 289.03 L702.18 289.52 L702.92 290.02 L703.66 290.53 L704.40 291.05 L705.14 291.58 L705.88 292.11 L706.62 292.67 L707.36 293.23 L708.10 293.81 L708.84 294.39 L709.58 295.00 L710.32 295.61 L711.06 296.25 L711.80 296.89 L712.54 297.56 L713.28 298.23 L714.02 298.93 L714.76 299.65 L715.50 300.38 L716.24 301.13 L716.98 301.91 L717.72 302.70 L718.46 303.52 L719.20 304.36 L719.94 305.23 L720.68 306.12 L721.42 307.03 L722.16 307.98 L722.90 308.95 L723.64 309.95 L724.38 310.98 L725.12 312.05 L725.86 313.14 L726.60 314.28 L727.34 315.44 L728.08 316.65 L728.82 317.90 L729.56 319.18 L730.30 320.51 L731.04 321.89 L731.78 323.31 L732.52 324.78 L733.26 326.30 L734.00 327.87 L734.74 329.50 L735.48 331.18 L736.22 332.92 L736.96 334.73 L737.70 336.60 L738.44 338.54 L739.18 340.54 L739.92 342.62 L740.66 344.78 L741.40 347.01 L742.14 349.33 L742.88 351.73 L743.62 354.22 L744.36 356.80 L745.10 359.49 L745.84 362.27 L746.58 365.16 L747.32 368.15 L748.06 371.27 L748.80 374.50 L749.54 377.85 L750.28 381.33 L751.02 384.95 L751.76 388.71 L752.50 392.62 L753.24 396.67 L753.98 400.89 L754.72 405.27 L755.46 409.82 L756.20 414.55 L756.94 419.47 L757.68 424.58 L758.42 429.90 L759.16 435.42 L759.90 441.17 L760.64 447.15 L761.38 453.36 L762.12 459.82 L762.86 466.54 L763.60 473.54 L764.34 480.81 L765.08 488.37 L765.82 496.24 L766.56 504.43 L767.30 512.95 L768.04 521.82 L768.78 531.04 L769.52 540.64 L770.26 550.63 L771.00 561.02 L771.74 571.84 L772.48 583.10" stroke="#ffa500" stroke-dasharray="1.7 4.13" stroke-dashoffset="-0.15"/>
<path d="M138.30 73.00 L139.04 73.26 L139.78 73.53 L140.52 73.79 L141.26 74.05 L142.00 74.32 L142.74 74.58 L143.48 74.85 L144.22 75.11 L144.96 75.37 L145.70 75.64 L146.44 75.90 L147.18 76.16 L147.92 76.43 L148.66 76.69 L149.40 76.95 L150.14 77.22 L150.88 77.48 L151.62 77.75 L152.36 78.01 L153.10 78.27 L153.84 78.54 L154.58 78.80 L155.32 79.06 L156.06 79.33 L156.80 79.59 L157.54 79.86 L158.28 80.12 L159.02 80.38 L159.76 80.65 L160.50 80.91 L161.24 81.17 L161.98 81.44 L162.72 81.70 L163.46 81.96 L164.20 82.23 L164.94 82.49 L165.68 82.76 L166.42 83.02 L167.16 83.28 L167.90 83.55 L168.64 83.81 L169.38 84.07 L170.12 84.34 L170.86 84.60 L171.60 84.86 L172.34 85.13 L173.08 85.39 L173.82 85.66 L174.56 85.92 L175.30 86.18 L176.04 86.45 L176.78 86.71 L177.52 86.97 L178.26 87.24 L179.00 87.50 L179.74 87.77 L180.48 88.03 L181.22 88.29 L181.96 88.56 L182.70 88.82 L183.44 89.08 L184.18 89.35 L184.92 89.61 L185.66 89.87 L186.40 90.14 L187.14 90.40 L187.88 90.67 L188.62 90.93 L189.36 91.19 L190.10 91.46 L190.84 91.72 L191.58 91.98 L192.32 92.25 L193.06 92.51 L193.80 92.77 L194.54 93.04 L195.28 93.30 L196.02 93.57 L196.76 93.83 L197.50 94.09 L198.24 94.36 L198.98 94.62 L199.72 94.88 L200.46 95.15 L201.20 95.41 L201.94 95.67 L202.68 95.94 L203.42 96.20 L204.16 96.47 L204.90 96.73 L205.64 96.99 L206.38 97.26 L207.12 97.52 L207.86 97.78 L208.60 98.05 L209.34 98.31 L210.08 98.58 L210.82 98.84 L211.56 99.10 L212.30 99.37 L213.04 99.63 L213.78 99.89 L214.52 100.16 L215.26 100.42 L216.00 100.68 L216.74 100.95 L217.48 101.21 L218.22 101.48 L218.96 101.74 L219.70 102.00 L220.44 102.27 L221.18 102.53 L221.92 102.79 L222.66 103.06 L223.40 103.32 L224.14 103.58 L224.88 103.85 L225.62 104.11 L226.36 104.38 L227.10 104.64 L227.84 104.90 L228.58 105.17 L229.32 105.43 L230.06 105.69 L230.80 105.96 L231.54 106.22 L232.28 106.49 L233.02 106.75 L233.76 107.01 L234.50 107.28 L235.24 107.54 L235.98 107.80 L236.72 108.07 L237.46 108.33 L238.20 108.59 L238.94 108.86 L239.68 109.12 L240.42 109.39 L241.16 109.65 L241.90 109.91 L242.64 110.18 L243.38 110.44 L244.12 110.70 L244.86 110.97 L245.60 111.23 L246.34 111.49 L247.08 111.76 L247.82 112.02 L248.56 112.29 L249.30 112.55 L250.04 112.81 L250.78 113.08 L251.52 113.34 L252.26 113.60 L253.00 113.87 L253.74 114.13 L254.48 114.39 L255.22 114.66 L255.96 114.92 L256.70 115.19 L257.44 115.45 L258.18 115.71 L258.92 115.98 L259.66 116.24 L260.40 116.50 L261.14 116.77 L261.88 117.03 L262.62 117.30 L263.36 117.56 L264.10 117.82 L264.84 118.09 L265.58 118.35 L266.32 118.61 L267.06 118.88 L267.80 119.14 L268.54 119.40 L269.28 119.67 L270.02 119.93 L270.76 120.20 L271.50 120.46 L272.24 120.72 L272.98 120.99 L273.72 121.25 L274.46 121.51 L275.20 121.78 L275.94 122.04 L276.68 122.30 L277.42 122.57 L278.16 122.83 L278.90 123.10 L279.64 123.36 L280.38 123.62 L281.12 123.89 L281.86 124.15 L282.60 124.41 L283.34 124.68 L284.08 124.94 L284.82 125.21 L285.56 125.47 L286.30 125.73 L287.04 126.00 L287.78 126.26 L288.52 126.52 L289.26 126.79 L290.00 127.05 L290.74 127.31 L291.48 127.58 L292.22 127.84 L292.96 128.11 L293.70 128.37 L294.44 128.63 L295.18 128.90 L295.92 129.16 L296.66 129.42 L297.40 129.69 L298.14 129.95 L298.88 130.21 L299.62 130.48 L300.36 130.74 L301.10 131.01 L301.84 131.27 L302.58 131.53 L303.32 131.80 L304.06 132.06 L304.80 132.32 L305.54 132.59 L306.28 132.85 L307.02 133.11 L307.76 133.38 L308.50 133.64 L309.24 133.91 L309.98 134.17 L310.72 134.43 L311.46 134.70 L312.20 134.96 L312.94 135.22 L313.68 135.49 L314.42 135.75 L315.16 136.02 L315.90 136.28 L316.64 136.54 L317.38 136.81 L318.12 137.07 L318.86 137.33 L319.60 137.60 L320.34 137.86 L321.08 138.12 L321.82 138.39 L322.56 138.65 L323.30 138.92 L324.04 139.18 L324.78 139.44 L325.52 139.71 L326.26 139.97 L327.00 140.23 L327.74 140.50 L328.48 140.76 L329.22 141.02 L329.96 141.29 L330.70 141.55 L331.44 141.82 L332.18 142.08 L332.92 142.34 L333.66 142.61 L334.40 142.87 L335.14 143.13 L335.88 143.40 L336.62 143.66 L337.36 143.93 L338.10 144.19 L338.84 144.45 L339.58 144.72 L340.32 144.98 L341.06 145.24 L341.80 145.51 L342.54 145.77 L343.28 146.03 L344.02 146.30 L344.76 146.56 L345.50 146.83 L346.24 147.09 L346.98 147.35 L347.72 147.62 L348.46 147.88 L349.20 148.14 L349.94 148.41 L350.68 148.67 L351.42 148.93 L352.16 149.20 L352.90 149.46 L353.64 149.73 L354.38 149.99 L355.12 150.25 L355.86 150.52 L356.60 150.78 L357.34 151.04 L358.08 151.31 L358.82 151.57 L359.56 151.83 L360.30 152.10 L361.04 152.36 L361.78 152.63 L362.52 152.89 L363.26 153.15 L364.00 153.42 L364.74 153.68 L365.48 153.94 L366.22 154.21 L366.96 154.47 L367.70 154.74 L368.44 155.00 L369.18 155.26 L369.92 155.53 L370.66 155.79 L371.40 156.05 L372.14 156.32 L372.88 156.58 L373.62 156.84 L374.36 157.11 L375.10 157.37 L375.84 157.64 L376.58 157.90 L377.32 158.16 L378.06 158.43 L378.80 158.69 L379.54 158.95 L380.28 159.22 L381.02 159.48 L381.76 159.74 L382.50 160.01 L383.24 160.27 L383.98 160.54 L384.72 160.80 L385.46 161.06 L386.20 161.33 L386.94 161.59 L387.68 161.85 L388.42 162.12 L389.16 162.38 L389.90 162.65 L390.64 162.91 L391.38 163.17 L392.12 163.44 L392.86 163.70 L393.60 163.96 L394.34 164.23 L395.08 164.49 L395.82 164.75 L396.56 165.02 L397.30 165.28 L398.04 165.55 L398.78 165.81 L399.52 166.07 L400.26 166.34 L401.00 166.60 L401.74 166.86 L402.48 167.13 L403.22 167.39 L403.96 167.65 L404.70 167.92 L405.44 168.18 L406.18 168.45 L406.92 168.71 L407.66 168.97 L408.40 169.24 L409.14 169.50 L409.88 169.76 L410.62 170.03 L411.36 170.29 L412.10 170.55 L412.84 170.82 L413.58 171.08 L414.32 171.35 L415.06 171.61 L415.80 171.87 L416.54 172.14 L417.28 172.40 L418.02 172.66 L418.76 172.93 L419.50 173.19 L420.24 173.46 L420.98 173.72 L421.72 173.98 L422.46 174.25 L423.20 174.51 L423.94 174.77 L424.68 175.04 L425.42 175.30 L426.16 175.56 L426.90 175.83 L427.64 176.09 L428.38 176.36 L429.12 176.62 L429.86 176.88 L430.60 177.15 L431.34 177.41 L432.08 177.67 L432.82 177.94 L433.56 178.20 L434.30 178.46 L435.04 178.73 L435.78 178.99 L436.52 179.26 L437.26 179.52 L438.00 179.78 L438.74 180.05 L439.48 180.31 L440.22 180.57 L440.96 180.84 L441.70 181.10 L442.44 181.37 L443.18 181.63 L443.92 181.89 L444.66 182.16 L445.40 182.42 L446.14 182.68 L446.88 182.95 L447.62 183.21 L448.36 183.47 L449.10 183.74 L449.84 184.00 L450.58 184.27 L451.32 184.53 L452.06 184.79 L452.80 185.06 L453.54 185.32 L454.28 185.58 L455.02 185.85 L455.76 186.11 L456.50 186.37 L457.24 186.64 L457.98 186.90 L458.72 187.17 L459.46 187.43 L460.20 187.69 L460.94 187.96 L461.68 188.22 L462.42 188.48 L463.16 188.75 L463.90 189.01 L464.64 189.27 L465.38 189.54 L466.12 189.80 L466.86 190.07 L467.60 190.33 L468.34 190.59 L469.08 190.86 L469.82 191.12 L470.56 191.38 L471.30 191.65 L472.04 191.91 L472.78 192.18 L473.52 192.44 L474.26 192.70 L475.00 192.97 L475.74 193.23 L476.48 193.49 L477.22 193.76 L477.96 194.02 L478.70 194.28 L479.44 194.55 L480.18 194.81 L480.92 195.08 L481.66 195.34 L482.40 195.60 L483.14 195.87 L483.88 196.13 L484.62 196.39 L485.36 196.66 L486.10 196.92 L486.84 197.18 L487.58 197.45 L488.32 197.71 L489.06 197.98 L489.80 198.24 L490.54 198.50 L491.28 198.77 L492.02 199.03 L492.76 199.29 L493.50 199.56 L494.24 199.82 L494.98 200.09 L495.72 200.35 L496.46 200.61 L497.20 200.88 L497.94 201.14 L498.68 201.40 L499.42 201.67 L500.16 201.93 L500.90 202.19 L501.64 202.46 L502.38 202.72 L503.12 202.99 L503.86 203.25 L504.60 203.51 L505.34 203.78 L506.08 204.04 L506.82 204.30 L507.56 204.57 L508.30 204.83 L509.04 205.09 L509.78 205.36 L510.52 205.62 L511.26 205.89 L512.00 206.15 L512.74 206.41 L513.48 206.68 L514.22 206.94 L514.96 207.20 L515.70 207.47 L516.44 207.73 L517.18 208.00 L517.92 208.26 L518.66 208.52 L519.40 208.79 L520.14 209.05 L520.88 209.31 L521.62 209.58 L522.36 209.84 L523.10 210.10 L523.84 210.37 L524.58 210.63 L525.32 210.90 L526.06 211.16 L526.80 211.42 L527.54 211.69 L528.28 211.95 L529.02 212.21 L529.76 212.48 L530.50 212.74 L531.24 213.00 L531.98 213.27 L532.72 213.53 L533.46 213.80 L534.20 214.06 L534.94 214.32 L535.68 214.59 L536.42 214.85 L537.16 215.11 L537.90 215.38 L538.64 215.64 L539.38 215.91 L540.12 216.17 L540.86 216.43 L541.60 216.70 L542.34 216.96 L543.08 217.22 L543.82 217.49 L544.56 217.75 L545.30 218.02 L546.04 218.28 L546.78 218.54 L547.52 218.81 L548.26 219.07 L549.00 219.33 L549.74 219.60 L550.48 219.86 L551.22 220.12 L551.96 220.39 L552.70 220.65 L553.44 220.92 L554.18 221.18 L554.92 221.44 L555.66 221.71 L556.40 221.97 L557.14 222.23 L557.88 222.50 L558.62 222.76 L559.36 223.03 L560.10 223.29 L560.84 223.55 L561.58 223.82 L562.32 224.08 L563.06 224.34 L563.80 224.61 L564.54 224.87 L565.28 225.14 L566.02 225.40 L566.76 225.66 L567.50 225.93 L568.24 226.19 L568.98 226.45 L569.72 226.72 L570.46 226.98 L571.20 227.25 L571.94 227.51 L572.68 227.77 L573.42 228.04 L574.16 228.30 L574.90 228.57 L575.64 228.83 L576.38 229.09 L577.12 229.36 L577.86 229.62 L578.60 229.88 L579.34 230.15 L580.08 230.41 L580.82 230.68 L581.56 230.94 L582.30 231.20 L583.04 231.47 L583.78 231.73 L584.52 232.00 L585.26 232.26 L586.00 232.52 L586.74 232.79 L587.48 233.05 L588.22 233.32 L588.96 233.58 L589.70 233.84 L590.44 234.11 L591.18 234.37 L591.92 234.64 L592.66 234.90 L593.40 235.17 L594.14 235.43 L594.88 235.69 L595.62 235.96 L596.36 236.22 L597.10 236.49 L597.84 236.75 L598.58 237.02 L599.32 237.28 L600.06 237.54 L600.80 237.81 L601.54 238.07 L602.28 238.34 L603.02 238.60 L603.76 238.87 L604.50 239.13 L605.24 239.40 L605.98 239.66 L606.72 239.93 L607.46 240.19 L608.20 240.46 L608.94 240.72 L609.68 240.99 L610.42 241.25 L611.16 241.52 L611.90 241.78 L612.64 242.05 L613.38 242.31 L614.12 242.58 L614.86 242.84 L615.60 243.11 L616.34 243.37 L617.08 243.64 L617.82 243.91 L618.56 244.17 L619.30 244.44 L620.04 244.70 L620.78 244.97 L621.52 245.24 L622.26 245.50 L623.00 245.77 L623.74 246.04 L624.48 246.30 L625.22 246.57 L625.96 246.84 L626.70 247.10 L627.44 247.37 L628.18 247.64 L628.92 247.91 L629.66 248.17 L630.40 248.44 L631.14 248.71 L631.88 248.98 L632.62 249.25 L633.36 249.51 L634.10 249.78 L634.84 250.05 L635.58 250.32 L636.32 250.59 L637.06 250.86 L637.80 251.13 L638.54 251.40 L639.28 251.67 L640.02 251.94 L640.76 252.21 L641.50 252.49 L642.24 252.76 L642.98 253.03 L643.72 253.30 L644.46 253.58 L645.20 253.85 L645.94 254.12 L646.68 254.40 L647.42 254.67 L648.16 254.95 L648.90 255.22 L649.64 255.50 L650.38 255.77 L651.12 256.05 L651.86 256.33 L652.60 256.61 L653.34 256.89 L654.08 257.16 L654.82 257.44 L655.56 257.73 L656.30 258.01 L657.04 258.29 L657.78 258.57 L658.52 258.86 L659.26 259.14 L660.00 259.43 L660.74 259.71 L661.48 260.00 L662.22 260.29 L662.96 260.58 L663.70 260.87 L664.44 261.16 L665.18 261.45 L665.92 261.75 L666.66 262.04 L667.40 262.34 L668.14 262.64 L668.88 262.94 L669.62 263.24 L670.36 263.54 L671.10 263.84 L671.84 264.15 L672.58 264.46 L673.32 264.76 L674.06 265.08 L674.80 265.39 L675.54 265.70 L676.28 266.02 L677.02 266.34 L677.76 266.66 L678.50 266.99 L679.24 267.31 L679.98 267.64 L680.72 267.98 L681.46 268.31 L682.20 268.65 L682.94 268.99 L683.68 269.34 L684.42 269.68 L685.16 270.03 L685.90 270.39 L686.64 270.75 L687.38 271.11 L688.12 271.48 L688.86 271.85 L689.60 272.23 L690.34 272.61 L691.08 272.99 L691.82 273.38 L692.56 273.78 L693.30 274.18 L694.04 274.59 L694.78 275.00 L695.52 275.42 L696.26 275.85 L697.00 276.28 L697.74 276.72 L698.48 277.17 L699.22 277.62 L699.96 278.08 L700.70 278.55 L701.44 279.03 L702.18 279.52 L702.92 280.02 L703.66 280.53 L704.40 281.05 L705.14 281.58 L705.88 282.11 L706.62 282.67 L707.36 283.23 L708.10 283.81 L708.84 284.39 L709.58 285.00 L710.32 285.61 L711.06 286.25 L711.80 286.89 L712.54 287.56 L713.28 288.23 L714.02 288.93 L714.76 289.65 L715.50 290.38 L716.24 291.13 L716.98 291.91 L717.72 292.70 L718.46 293.52 L719.20 294.36 L719.94 295.23 L720.68 296.12 L721.42 297.03 L722.16 297.98 L722.90 298.95 L723.64 299.95 L724.38 300.98 L725.12 302.05 L725.86 303.14 L726.60 304.28 L727.34 305.44 L728.08 306.65 L728.82 307.90 L729.56 309.18 L730.30 310.51 L731.04 311.89 L731.78 313.31 L732.52 314.78 L733.26 316.30 L734.00 317.87 L734.74 319.50 L735.48 321.18 L736.22 322.92 L736.96 324.73 L737.70 326.60 L738.44 328.54 L739.18 330.54 L739.92 332.62 L740.66 334.78 L741.40 337.01 L742.14 339.33 L742.88 341.73 L743.62 344.22 L744.36 346.80 L745.10 349.49 L745.84 352.27 L746.58 355.16 L747.32 358.15 L748.06 361.27 L748.80 364.50 L749.54 367.85 L750.28 371.33 L751.02 374.95 L751.76 378.71 L752.50 382.62 L753.24 386.67 L753.98 390.89 L754.72 395.27 L755.46 399.82 L756.20 404.55 L756.94 409.47 L757.68 414.58 L758.42 419.90 L759.16 425.42 L759.90 431.17 L760.64 437.15 L761.38 443.36 L762.12 449.82 L762.86 456.54 L763.60 463.54 L764.34 470.81 L765.08 478.37 L765.82 486.24 L766.56 494.43 L767.30 502.95 L768.04 511.82 L768.78 521.04 L769.52 530.64 L770.26 540.63 L771.00 551.02 L771.74 561.84 L772.48 573.10 L773.22 584.82" stroke="#ff0000"/>
<path d="M138.30 57.60 L139.04 57.86 L139.78 58.13 L140.52 58.39 L141.26 58.65 L142.00 58.92 L142.74 59.18 L143.48 59.45 L144.22 59.71 L144.96 59.97 L145.70 60.24 L146.44 60.50 L147.18 60.76 L147.92 61.03 L148.66 61.29 L149.40 61.55 L150.14 61.82 L150.88 62.08 L151.62 62.35 L152.36 62.61 L153.10 62.87 L153.84 63.14 L154.58 63.40 L155.32 63.66 L156.06 63.93 L156.80 64.19 L157.54 64.46 L158.28 64.72 L159.02 64.98 L159.76 65.25 L160.50 65.51 L161.24 65.77 L161.98 66.04 L162.72 66.30 L163.46 66.56 L164.20 66.83 L164.94 67.09 L165.68 67.36 L166.42 67.62 L167.16 67.88 L167.90 68.15 L168.64 68.41 L169.38 68.67 L170.12 68.94 L170.86 69.20 L171.60 69.46 L172.34 69.73 L173.08 69.99 L173.82 70.26 L174.56 70.52 L175.30 70.78 L176.04 71.05 L176.78 71.31 L177.52 71.57 L178.26 71.84 L179.00 72.10 L179.74 72.37 L180.48 72.63 L181.22 72.89 L181.96 73.16 L182.70 73.42 L183.44 73.68 L184.18 73.95 L184.92 74.21 L185.66 74.47 L186.40 74.74 L187.14 75.00 L187.88 75.27 L188.62 75.53 L189.36 75.79 L190.10 76.06 L190.84 76.32 L191.58 76.58 L192.32 76.85 L193.06 77.11 L193.80 77.37 L194.54 77.64 L195.28 77.90 L196.02 78.17 L196.76 78.43 L197.50 78.69 L198.24 78.96 L198.98 79.22 L199.72 79.48 L200.46 79.75 L201.20 80.01 L201.94 80.27 L202.68 80.54 L203.42 80.80 L204.16 81.07 L204.90 81.33 L205.64 81.59 L206.38 81.86 L207.12 82.12 L207.86 82.38 L208.60 82.65 L209.34 82.91 L210.08 83.18 L210.82 83.44 L211.56 83.70 L212.30 83.97 L213.04 84.23 L213.78 84.49 L214.52 84.76 L215.26 85.02 L216.00 85.28 L216.74 85.55 L217.48 85.81 L218.22 86.08 L218.96 86.34 L219.70 86.60 L220.44 86.87 L221.18 87.13 L221.92 87.39 L222.66 87.66 L223.40 87.92 L224.14 88.18 L224.88 88.45 L225.62 88.71 L226.36 88.98 L227.10 89.24 L227.84 89.50 L228.58 89.77 L229.32 90.03 L230.06 90.29 L230.80 90.56 L231.54 90.82 L232.28 91.09 L233.02 91.35 L233.76 91.61 L234.50 91.88 L235.24 92.14 L235.98 92.40 L236.72 92.67 L237.46 92.93 L238.20 93.19 L238.94 93.46 L239.68 93.72 L240.42 93.99 L241.16 94.25 L241.90 94.51 L242.64 94.78 L243.38 95.04 L244.12 95.30 L244.86 95.57 L245.60 95.83 L246.34 96.09 L247.08 96.36 L247.82 96.62 L248.56 96.89 L249.30 97.15 L250.04 97.41 L250.78 97.68 L251.52 97.94 L252.26 98.20 L253.00 98.47 L253.74 98.73 L254.48 98.99 L255.22 99.26 L255.96 99.52 L256.70 99.79 L257.44 100.05 L258.18 100.31 L258.92 100.58 L259.66 100.84 L260.40 101.10 L261.14 101.37 L261.88 101.63 L262.62 101.90 L263.36 102.16 L264.10 102.42 L264.84 102.69 L265.58 102.95 L266.32 103.21 L267.06 103.48 L267.80 103.74 L268.54 104.00 L269.28 104.27 L270.02 104.53 L270.76 104.80 L271.50 105.06 L272.24 105.32 L272.98 105.59 L273.72 105.85 L274.46 106.11 L275.20 106.38 L275.94 106.64 L276.68 106.90 L277.42 107.17 L278.16 107.43 L278.90 107.70 L279.64 107.96 L280.38 108.22 L281.12 108.49 L281.86 108.75 L282.60 109.01 L283.34 109.28 L284.08 109.54 L284.82 109.81 L285.56 110.07 L286.30 110.33 L287.04 110.60 L287.78 110.86 L288.52 111.12 L289.26 111.39 L290.00 111.65 L290.74 111.91 L291.48 112.18 L292.22 112.44 L292.96 112.71 L293.70 112.97 L294.44 113.23 L295.18 113.50 L295.92 113.76 L296.66 114.02 L297.40 114.29 L298.14 114.55 L298.88 114.81 L299.62 115.08 L300.36 115.34 L301.10 115.61 L301.84 115.87 L302.58 116.13 L303.32 116.40 L304.06 116.66 L304.80 116.92 L305.54 117.19 L306.28 117.45 L307.02 117.71 L307.76 117.98 L308.50 118.24 L309.24 118.51 L309.98 118.77 L310.72 119.03 L311.46 119.30 L312.20 119.56 L312.94 119.82 L313.68 120.09 L314.42 120.35 L315.16 120.62 L315.90 120.88 L316.64 121.14 L317.38 121.41 L318.12 121.67 L318.86 121.93 L319.60 122.20 L320.34 122.46 L321.08 122.72 L321.82 122.99 L322.56 123.25 L323.30 123.52 L324.04 123.78 L324.78 124.04 L325.52 124.31 L326.26 124.57 L327.00 124.83 L327.74 125.10 L328.48 125.36 L329.22 125.62 L329.96 125.89 L330.70 126.15 L331.44 126.42 L332.18 126.68 L332.92 126.94 L333.66 127.21 L334.40 127.47 L335.14 127.73 L335.88 128.00 L336.62 128.26 L337.36 128.53 L338.10 128.79 L338.84 129.05 L339.58 129.32 L340.32 129.58 L341.06 129.84 L341.80 130.11 L342.54 130.37 L343.28 130.63 L344.02 130.90 L344.76 131.16 L345.50 131.43 L346.24 131.69 L346.98 131.95 L347.72 132.22 L348.46 132.48 L349.20 132.74 L349.94 133.01 L350.68 133.27 L351.42 133.53 L352.16 133.80 L352.90 134.06 L353.64 134.33 L354.38 134.59 L355.12 134.85 L355.86 135.12 L356.60 135.38 L357.34 135.64 L358.08 135.91 L358.82 136.17 L359.56 136.43 L360.30 136.70 L361.04 136.96 L361.78 137.23 L362.52 137.49 L363.26 137.75 L364.00 138.02 L364.74 138.28 L365.48 138.54 L366.22 138.81 L366.96 139.07 L367.70 139.34 L368.44 139.60 L369.18 139.86 L369.92 140.13 L370.66 140.39 L371.40 140.65 L372.14 140.92 L372.88 141.18 L373.62 141.44 L374.36 141.71 L375.10 141.97 L375.84 142.24 L376.58 142.50 L377.32 142.76 L378.06 143.03 L378.80 143.29 L379.54 143.55 L380.28 143.82 L381.02 144.08 L381.76 144.34 L382.50 144.61 L383.24 144.87 L383.98 145.14 L384.72 145.40 L385.46 145.66 L386.20 145.93 L386.94 146.19 L387.68 146.45 L388.42 146.72 L389.16 146.98 L389.90 147.25 L390.64 147.51 L391.38 147.77 L392.12 148.04 L392.86 148.30 L393.60 148.56 L394.34 148.83 L395.08 149.09 L395.82 149.35 L396.56 149.62 L397.30 149.88 L398.04 150.15 L398.78 150.41 L399.52 150.67 L400.26 150.94 L401.00 151.20 L401.74 151.46 L402.48 151.73 L403.22 151.99 L403.96 152.25 L404.70 152.52 L405.44 152.78 L406.18 153.05 L406.92 153.31 L407.66 153.57 L408.40 153.84 L409.14 154.10 L409.88 154.36 L410.62 154.63 L411.36 154.89 L412.10 155.15 L412.84 155.42 L413.58 155.68 L414.32 155.95 L415.06 156.21 L415.80 156.47 L416.54 156.74 L417.28 157.00 L418.02 157.26 L418.76 157.53 L419.50 157.79 L420.24 158.06 L420.98 158.32 L421.72 158.58 L422.46 158.85 L423.20 159.11 L423.94 159.37 L424.68 159.64 L425.42 159.90 L426.16 160.16 L426.90 160.43 L427.64 160.69 L428.38 160.96 L429.12 161.22 L429.86 161.48 L430.60 161.75 L431.34 162.01 L432.08 162.27 L432.82 162.54 L433.56 162.80 L434.30 163.06 L435.04 163.33 L435.78 163.59 L436.52 163.86 L437.26 164.12 L438.00 164.38 L438.74 164.65 L439.48 164.91 L440.22 165.17 L440.96 165.44 L441.70 165.70 L442.44 165.97 L443.18 166.23 L443.92 166.49 L444.66 166.76 L445.40 167.02 L446.14 167.28 L446.88 167.55 L447.62 167.81 L448.36 168.07 L449.10 168.34 L449.84 168.60 L450.58 168.87 L451.32 169.13 L452.06 169.39 L452.80 169.66 L453.54 169.92 L454.28 170.18 L455.02 170.45 L455.76 170.71 L456.50 170.97 L457.24 171.24 L457.98 171.50 L458.72 171.77 L459.46 172.03 L460.20 172.29 L460.94 172.56 L461.68 172.82 L462.42 173.08 L463.16 173.35 L463.90 173.61 L464.64 173.87 L465.38 174.14 L466.12 174.40 L466.86 174.67 L467.60 174.93 L468.34 175.19 L469.08 175.46 L469.82 175.72 L470.56 175.98 L471.30 176.25 L472.04 176.51 L472.78 176.78 L473.52 177.04 L474.26 177.30 L475.00 177.57 L475.74 177.83 L476.48 178.09 L477.22 178.36 L477.96 178.62 L478.70 178.88 L479.44 179.15 L480.18 179.41 L480.92 179.68 L481.66 179.94 L482.40 180.20 L483.14 180.47 L483.88 180.73 L484.62 180.99 L485.36 181.26 L486.10 181.52 L486.84 181.78 L487.58 182.05 L488.32 182.31 L489.06 182.58 L489.80 182.84 L490.54 183.10 L491.28 183.37 L492.02 183.63 L492.76 183.89 L493.50 184.16 L494.24 184.42 L494.98 184.69 L495.72 184.95 L496.46 185.21 L497.20 185.48 L497.94 185.74 L498.68 186.00 L499.42 186.27 L500.16 186.53 L500.90 186.79 L501.64 187.06 L502.38 187.32 L503.12 187.59 L503.86 187.85 L504.60 188.11 L505.34 188.38 L506.08 188.64 L506.82 188.90 L507.56 189.17 L508.30 189.43 L509.04 189.69 L509.78 189.96 L510.52 190.22 L511.26 190.49 L512.00 190.75 L512.74 191.01 L513.48 191.28 L514.22 191.54 L514.96 191.80 L515.70 192.07 L516.44 192.33 L517.18 192.60 L517.92 192.86 L518.66 193.12 L519.40 193.39 L520.14 193.65 L520.88 193.91 L521.62 194.18 L522.36 194.44 L523.10 194.70 L523.84 194.97 L524.58 195.23 L525.32 195.50 L526.06 195.76 L526.80 196.02 L527.54 196.29 L528.28 196.55 L529.02 196.81 L529.76 197.08 L530.50 197.34 L531.24 197.60 L531.98 197.87 L532.72 198.13 L533.46 198.40 L534.20 198.66 L534.94 198.92 L535.68 199.19 L536.42 199.45 L537.16 199.71 L537.90 199.98 L538.64 200.24 L539.38 200.51 L540.12 200.77 L540.86 201.03 L541.60 201.30 L542.34 201.56 L543.08 201.82 L543.82 202.09 L544.56 202.35 L545.30 202.62 L546.04 202.88 L546.78 203.14 L547.52 203.41 L548.26 203.67 L549.00 203.93 L549.74 204.20 L550.48 204.46 L551.22 204.72 L551.96 204.99 L552.70 205.25 L553.44 205.52 L554.18 205.78 L554.92 206.04 L555.66 206.31 L556.40 206.57 L557.14 206.83 L557.88 207.10 L558.62 207.36 L559.36 207.63 L560.10 207.89 L560.84 208.15 L561.58 208.42 L562.32 208.68 L563.06 208.94 L563.80 209.21 L564.54 209.47 L565.28 209.74 L566.02 210.00 L566.76 210.26 L567.50 210.53 L568.24 210.79 L568.98 211.05 L569.72 211.32 L570.46 211.58 L571.20 211.85 L571.94 212.11 L572.68 212.37 L573.42 212.64 L574.16 212.90 L574.90 213.17 L575.64 213.43 L576.38 213.69 L577.12 213.96 L577.86 214.22 L578.60 214.48 L579.34 214.75 L580.08 215.01 L580.82 215.28 L581.56 215.54 L582.30 215.80 L583.04 216.07 L583.78 216.33 L584.52 216.60 L585.26 216.86 L586.00 217.12 L586.74 217.39 L587.48 217.65 L588.22 217.92 L588.96 218.18 L589.70 218.44 L590.44 218.71 L591.18 218.97 L591.92 219.24 L592.66 219.50 L593.40 219.77 L594.14 220.03 L594.88 220.29 L595.62 220.56 L596.36 220.82 L597.10 221.09 L597.84 221.35 L598.58 221.62 L599.32 221.88 L600.06 222.14 L600.80 222.41 L601.54 222.67 L602.28 222.94 L603.02 223.20 L603.76 223.47 L604.50 223.73 L605.24 224.00 L605.98 224.26 L606.72 224.53 L607.46 224.79 L608.20 225.06 L608.94 225.32 L609.68 225.59 L610.42 225.85 L611.16 226.12 L611.90 226.38 L612.64 226.65 L613.38 226.91 L614.12 227.18 L614.86 227.44 L615.60 227.71 L616.34 227.97 L617.08 228.24 L617.82 228.51 L618.56 228.77 L619.30 229.04 L620.04 229.30 L620.78 229.57 L621.52 229.84 L622.26 230.10 L623.00 230.37 L623.74 230.64 L624.48 230.90 L625.22 231.17 L625.96 231.44 L626.70 231.70 L627.44 231.97 L628.18 232.24 L628.92 232.51 L629.66 232.77 L630.40 233.04 L631.14 233.31 L631.88 233.58 L632.62 233.85 L633.36 234.11 L634.10 234.38 L634.84 234.65 L635.58 234.92 L636.32 235.19 L637.06 235.46 L637.80 235.73 L638.54 236.00 L639.28 236.27 L640.02 236.54 L640.76 236.81 L641.50 237.09 L642.24 237.36 L642.98 237.63 L643.72 237.90 L644.46 238.18 L645.20 238.45 L645.94 238.72 L646.68 239.00 L647.42 239.27 L648.16 239.55 L648.90 239.82 L649.64 240.10 L650.38 240.37 L651.12 240.65 L651.86 240.93 L652.60 241.21 L653.34 241.49 L654.08 241.76 L654.82 242.04 L655.56 242.33 L656.30 242.61 L657.04 242.89 L657.78 243.17 L658.52 243.46 L659.26 243.74 L660.00 244.03 L660.74 244.31 L661.48 244.60 L662.22 244.89 L662.96 245.18 L663.70 245.47 L664.44 245.76 L665.18 246.05 L665.92 246.35 L666.66 246.64 L667.40 246.94 L668.14 247.24 L668.88 247.54 L669.62 247.84 L670.36 248.14 L671.10 248.44 L671.84 248.75 L672.58 249.06 L673.32 249.36 L674.06 249.68 L674.80 249.99 L675.54 250.30 L676.28 250.62 L677.02 250.94 L677.76 251.26 L678.50 251.59 L679.24 251.91 L679.98 252.24 L680.72 252.58 L681.46 252.91 L682.20 253.25 L682.94 253.59 L683.68 253.94 L684.42 254.28 L685.16 254.63 L685.90 254.99 L686.64 255.35 L687.38 255.71 L688.12 256.08 L688.86 256.45 L689.60 256.83 L690.34 257.21 L691.08 257.59 L691.82 257.98 L692.56 258.38 L693.30 258.78 L694.04 259.19 L694.78 259.60 L695.52 260.02 L696.26 260.45 L697.00 260.88 L697.74 261.32 L698.48 261.77 L699.22 262.22 L699.96 262.68 L700.70 263.15 L701.44 263.63 L702.18 264.12 L702.92 264.62 L703.66 265.13 L704.40 265.65 L705.14 266.18 L705.88 266.71 L706.62 267.27 L707.36 267.83 L708.10 268.41 L708.84 268.99 L709.58 269.60 L710.32 270.21 L711.06 270.85 L711.80 271.49 L712.54 272.16 L713.28 272.83 L714.02 273.53 L714.76 274.25 L715.50 274.98 L716.24 275.73 L716.98 276.51 L717.72 277.30 L718.46 278.12 L719.20 278.96 L719.94 279.83 L720.68 280.72 L721.42 281.63 L722.16 282.58 L722.90 283.55 L723.64 284.55 L724.38 285.58 L725.12 286.65 L725.86 287.74 L726.60 288.88 L727.34 290.04 L728.08 291.25 L728.82 292.50 L729.56 293.78 L730.30 295.11 L731.04 296.49 L731.78 297.91 L732.52 299.38 L733.26 300.90 L734.00 302.47 L734.74 304.10 L735.48 305.78 L736.22 307.52 L736.96 309.33 L737.70 311.20 L738.44 313.14 L739.18 315.14 L739.92 317.22 L740.66 319.38 L741.40 321.61 L742.14 323.93 L742.88 326.33 L743.62 328.82 L744.36 331.40 L745.10 334.09 L745.84 336.87 L746.58 339.76 L747.32 342.75 L748.06 345.87 L748.80 349.10 L749.54 352.45 L750.28 355.93 L751.02 359.55 L751.76 363.31 L752.50 367.22 L753.24 371.27 L753.98 375.49 L754.72 379.87 L755.46 384.42 L756.20 389.15 L756.94 394.07 L757.68 399.18 L758.42 404.50 L759.16 410.02 L759.90 415.77 L760.64 421.75 L761.38 427.96 L762.12 434.42 L762.86 441.14 L763.60 448.14 L764.34 455.41 L765.08 462.97 L765.82 470.84 L766.56 479.03 L767.30 487.55 L768.04 496.42 L768.78 505.64 L769.52 515.24 L770.26 525.23 L771.00 535.62 L771.74 546.44 L772.48 557.70 L773.22 569.42 L773.96 581.61" stroke="#00ff00"/>
<path d="M138.30 45.30 L139.04 45.56 L139.78 45.83 L140.52 46.09 L141.26 46.35 L142.00 46.62 L142.74 46.88 L143.48 47.15 L144.22 47.41 L144.96 47.67 L145.70 47.94 L146.44 48.20 L147.18 48.46 L147.92 48.73 L148.66 48.99 L149.40 49.25 L150.14 49.52 L150.88 49.78 L151.62 50.05 L152.36 50.31 L153.10 50.57 L153.84 50.84 L154.58 51.10 L155.32 51.36 L156.06 51.63 L156.80 51.89 L157.54 52.16 L158.28 52.42 L159.02 52.68 L159.76 52.95 L160.50 53.21 L161.24 53.47 L161.98 53.74 L162.72 54.00 L163.46 54.26 L164.20 54.53 L164.94 54.79 L165.68 55.06 L166.42 55.32 L167.16 55.58 L167.90 55.85 L168.64 56.11 L169.38 56.37 L170.12 56.64 L170.86 56.90 L171.60 57.16 L172.34 57.43 L173.08 57.69 L173.82 57.96 L174.56 58.22 L175.30 58.48 L176.04 58.75 L176.78 59.01 L177.52 59.27 L178.26 59.54 L179.00 59.80 L179.74 60.07 L180.48 60.33 L181.22 60.59 L181.96 60.86 L182.70 61.12 L183.44 61.38 L184.18 61.65 L184.92 61.91 L185.66 62.17 L186.40 62.44 L187.14 62.70 L187.88 62.97 L188.62 63.23 L189.36 63.49 L190.10 63.76 L190.84 64.02 L191.58 64.28 L192.32 64.55 L193.06 64.81 L193.80 65.07 L194.54 65.34 L195.28 65.60 L196.02 65.87 L196.76 66.13 L197.50 66.39 L198.24 66.66 L198.98 66.92 L199.72 67.18 L200.46 67.45 L201.20 67.71 L201.94 67.97 L202.68 68.24 L203.42 68.50 L204.16 68.77 L204.90 69.03 L205.64 69.29 L206.38 69.56 L207.12 69.82 L207.86 70.08 L208.60 70.35 L209.34 70.61 L210.08 70.88 L210.82 71.14 L211.56 71.40 L212.30 71.67 L213.04 71.93 L213.78 72.19 L214.52 72.46 L215.26 72.72 L216.00 72.98 L216.74 73.25 L217.48 73.51 L218.22 73.78 L218.96 74.04 L219.70 74.30 L220.44 74.57 L221.18 74.83 L221.92 75.09 L222.66 75.36 L223.40 75.62 L224.14 75.88 L224.88 76.15 L225.62 76.41 L226.36 76.68 L227.10 76.94 L227.84 77.20 L228.58 77.47 L229.32 77.73 L230.06 77.99 L230.80 78.26 L231.54 78.52 L232.28 78.79 L233.02 79.05 L233.76 79.31 L234.50 79.58 L235.24 79.84 L235.98 80.10 L236.72 80.37 L237.46 80.63 L238.20 80.89 L238.94 81.16 L239.68 81.42 L240.42 81.69 L241.16 81.95 L241.90 82.21 L242.64 82.48 L243.38 82.74 L244.12 83.00 L244.86 83.27 L245.60 83.53 L246.34 83.79 L247.08 84.06 L247.82 84.32 L248.56 84.59 L249.30 84.85 L250.04 85.11 L250.78 85.38 L251.52 85.64 L252.26 85.90 L253.00 86.17 L253.74 86.43 L254.48 86.69 L255.22 86.96 L255.96 87.22 L256.70 87.49 L257.44 87.75 L258.18 88.01 L258.92 88.28 L259.66 88.54 L260.40 88.80 L261.14 89.07 L261.88 89.33 L262.62 89.60 L263.36 89.86 L264.10 90.12 L264.84 90.39 L265.58 90.65 L266.32 90.91 L267.06 91.18 L267.80 91.44 L268.54 91.70 L269.28 91.97 L270.02 92.23 L270.76 92.50 L271.50 92.76 L272.24 93.02 L272.98 93.29 L273.72 93.55 L274.46 93.81 L275.20 94.08 L275.94 94.34 L276.68 94.60 L277.42 94.87 L278.16 95.13 L278.90 95.40 L279.64 95.66 L280.38 95.92 L281.12 96.19 L281.86 96.45 L282.60 96.71 L283.34 96.98 L284.08 97.24 L284.82 97.51 L285.56 97.77 L286.30 98.03 L287.04 98.30 L287.78 98.56 L288.52 98.82 L289.26 99.09 L290.00 99.35 L290.74 99.61 L291.48 99.88 L292.22 100.14 L292.96 100.41 L293.70 100.67 L294.44 100.93 L295.18 101.20 L295.92 101.46 L296.66 101.72 L297.40 101.99 L298.14 102.25 L298.88 102.51 L299.62 102.78 L300.36 103.04 L301.10 103.31 L301.84 103.57 L302.58 103.83 L303.32 104.10 L304.06 104.36 L304.80 104.62 L305.54 104.89 L306.28 105.15 L307.02 105.41 L307.76 105.68 L308.50 105.94 L309.24 106.21 L309.98 106.47 L310.72 106.73 L311.46 107.00 L312.20 107.26 L312.94 107.52 L313.68 107.79 L314.42 108.05 L315.16 108.32 L315.90 108.58 L316.64 108.84 L317.38 109.11 L318.12 109.37 L318.86 109.63 L319.60 109.90 L320.34 110.16 L321.08 110.42 L321.82 110.69 L322.56 110.95 L323.30 111.22 L324.04 111.48 L324.78 111.74 L325.52 112.01 L326.26 112.27 L327.00 112.53 L327.74 112.80 L328.48 113.06 L329.22 113.32 L329.96 113.59 L330.70 113.85 L331.44 114.12 L332.18 114.38 L332.92 114.64 L333.66 114.91 L334.40 115.17 L335.14 115.43 L335.88 115.70 L336.62 115.96 L337.36 116.23 L338.10 116.49 L338.84 116.75 L339.58 117.02 L340.32 117.28 L341.06 117.54 L341.80 117.81 L342.54 118.07 L343.28 118.33 L344.02 118.60 L344.76 118.86 L345.50 119.13 L346.24 119.39 L346.98 119.65 L347.72 119.92 L348.46 120.18 L349.20 120.44 L349.94 120.71 L350.68 120.97 L351.42 121.23 L352.16 121.50 L352.90 121.76 L353.64 122.03 L354.38 122.29 L355.12 122.55 L355.86 122.82 L356.60 123.08 L357.34 123.34 L358.08 123.61 L358.82 123.87 L359.56 124.13 L360.30 124.40 L361.04 124.66 L361.78 124.93 L362.52 125.19 L363.26 125.45 L364.00 125.72 L364.74 125.98 L365.48 126.24 L366.22 126.51 L366.96 126.77 L367.70 127.04 L368.44 127.30 L369.18 127.56 L369.92 127.83 L370.66 128.09 L371.40 128.35 L372.14 128.62 L372.88 128.88 L373.62 129.14 L374.36 129.41 L375.10 129.67 L375.84 129.94 L376.58 130.20 L377.32 130.46 L378.06 130.73 L378.80 130.99 L379.54 131.25 L380.28 131.52 L381.02 131.78 L381.76 132.04 L382.50 132.31 L383.24 132.57 L383.98 132.84 L384.72 133.10 L385.46 133.36 L386.20 133.63 L386.94 133.89 L387.68 134.15 L388.42 134.42 L389.16 134.68 L389.90 134.95 L390.64 135.21 L391.38 135.47 L392.12 135.74 L392.86 136.00 L393.60 136.26 L394.34 136.53 L395.08 136.79 L395.82 137.05 L396.56 137.32 L397.30 137.58 L398.04 137.85 L398.78 138.11 L399.52 138.37 L400.26 138.64 L401.00 138.90 L401.74 139.16 L402.48 139.43 L403.22 139.69 L403.96 139.95 L404.70 140.22 L405.44 140.48 L406.18 140.75 L406.92 141.01 L407.66 141.27 L408.40 141.54 L409.14 141.80 L409.88 142.06 L410.62 142.33 L411.36 142.59 L412.10 142.85 L412.84 143.12 L413.58 143.38 L414.32 143.65 L415.06 143.91 L415.80 144.17 L416.54 144.44 L417.28 144.70 L418.02 144.96 L418.76 145.23 L419.50 145.49 L420.24 145.76 L420.98 146.02 L421.72 146.28 L422.46 146.55 L423.20 146.81 L423.94 147.07 L424.68 147.34 L425.42 147.60 L426.16 147.86 L426.90 148.13 L427.64 148.39 L428.38 148.66 L429.12 148.92 L429.86 149.18 L430.60 149.45 L431.34 149.71 L432.08 149.97 L432.82 150.24 L433.56 150.50 L434.30 150.76 L435.04 151.03 L435.78 151.29 L436.52 151.56 L437.26 151.82 L438.00 152.08 L438.74 152.35 L439.48 152.61 L440.22 152.87 L440.96 153.14 L441.70 153.40 L442.44 153.67 L443.18 153.93 L443.92 154.19 L444.66 154.46 L445.40 154.72 L446.14 154.98 L446.88 155.25 L447.62 155.51 L448.36 155.77 L449.10 156.04 L449.84 156.30 L450.58 156.57 L451.32 156.83 L452.06 157.09 L452.80 157.36 L453.54 157.62 L454.28 157.88 L455.02 158.15 L455.76 158.41 L456.50 158.67 L457.24 158.94 L457.98 159.20 L458.72 159.47 L459.46 159.73 L460.20 159.99 L460.94 160.26 L461.68 160.52 L462.42 160.78 L463.16 161.05 L463.90 161.31 L464.64 161.57 L465.38 161.84 L466.12 162.10 L466.86 162.37 L467.60 162.63 L468.34 162.89 L469.08 163.16 L469.82 163.42 L470.56 163.68 L471.30 163.95 L472.04 164.21 L472.78 164.48 L473.52 164.74 L474.26 165.00 L475.00 165.27 L475.74 165.53 L476.48 165.79 L477.22 166.06 L477.96 166.32 L478.70 166.58 L479.44 166.85 L480.18 167.11 L480.92 167.38 L481.66 167.64 L482.40 167.90 L483.14 168.17 L483.88 168.43 L484.62 168.69 L485.36 168.96 L486.10 169.22 L486.84 169.48 L487.58 169.75 L488.32 170.01 L489.06 170.28 L489.80 170.54 L490.54 170.80 L491.28 171.07 L492.02 171.33 L492.76 171.59 L493.50 171.86 L494.24 172.12 L494.98 172.39 L495.72 172.65 L496.46 172.91 L497.20 173.18 L497.94 173.44 L498.68 173.70 L499.42 173.97 L500.16 174.23 L500.90 174.49 L501.64 174.76 L502.38 175.02 L503.12 175.29 L503.86 175.55 L504.60 175.81 L505.34 176.08 L506.08 176.34 L506.82 176.60 L507.56 176.87 L508.30 177.13 L509.04 177.39 L509.78 177.66 L510.52 177.92 L511.26 178.19 L512.00 178.45 L512.74 178.71 L513.48 178.98 L514.22 179.24 L514.96 179.50 L515.70 179.77 L516.44 180.03 L517.18 180.30 L517.92 180.56 L518.66 180.82 L519.40 181.09 L520.14 181.35 L520.88 181.61 L521.62 181.88 L522.36 182.14 L523.10 182.40 L523.84 182.67 L524.58 182.93 L525.32 183.20 L526.06 183.46 L526.80 183.72 L527.54 183.99 L528.28 184.25 L529.02 184.51 L529.76 184.78 L530.50 185.04 L531.24 185.30 L531.98 185.57 L532.72 185.83 L533.46 186.10 L534.20 186.36 L534.94 186.62 L535.68 186.89 L536.42 187.15 L537.16 187.41 L537.90 187.68 L538.64 187.94 L539.38 188.21 L540.12 188.47 L540.86 188.73 L541.60 189.00 L542.34 189.26 L543.08 189.52 L543.82 189.79 L544.56 190.05 L545.30 190.32 L546.04 190.58 L546.78 190.84 L547.52 191.11 L548.26 191.37 L549.00 191.63 L549.74 191.90 L550.48 192.16 L551.22 192.42 L551.96 192.69 L552.70 192.95 L553.44 193.22 L554.18 193.48 L554.92 193.74 L555.66 194.01 L556.40 194.27 L557.14 194.53 L557.88 194.80 L558.62 195.06 L559.36 195.33 L560.10 195.59 L560.84 195.85 L561.58 196.12 L562.32 196.38 L563.06 196.64 L563.80 196.91 L564.54 197.17 L565.28 197.44 L566.02 197.70 L566.76 197.96 L567.50 198.23 L568.24 198.49 L568.98 198.75 L569.72 199.02 L570.46 199.28 L571.20 199.55 L571.94 199.81 L572.68 200.07 L573.42 200.34 L574.16 200.60 L574.90 200.87 L575.64 201.13 L576.38 201.39 L577.12 201.66 L577.86 201.92 L578.60 202.18 L579.34 202.45 L580.08 202.71 L580.82 202.98 L581.56 203.24 L582.30 203.50 L583.04 203.77 L583.78 204.03 L584.52 204.30 L585.26 204.56 L586.00 204.82 L586.74 205.09 L587.48 205.35 L588.22 205.62 L588.96 205.88 L589.70 206.14 L590.44 206.41 L591.18 206.67 L591.92 206.94 L592.66 207.20 L593.40 207.47 L594.14 207.73 L594.88 207.99 L595.62 208.26 L596.36 208.52 L597.10 208.79 L597.84 209.05 L598.58 209.32 L599.32 209.58 L600.06 209.84 L600.80 210.11 L601.54 210.37 L602.28 210.64 L603.02 210.90 L603.76 211.17 L604.50 211.43 L605.24 211.70 L605.98 211.96 L606.72 212.23 L607.46 212.49 L608.20 212.76 L608.94 213.02 L609.68 213.29 L610.42 213.55 L611.16 213.82 L611.90 214.08 L612.64 214.35 L613.38 214.61 L614.12 214.88 L614.86 215.14 L615.60 215.41 L616.34 215.67 L617.08 215.94 L617.82 216.21 L618.56 216.47 L619.30 216.74 L620.04 217.00 L620.78 217.27 L621.52 217.54 L622.26 217.80 L623.00 218.07 L623.74 218.34 L624.48 218.60 L625.22 218.87 L625.96 219.14 L626.70 219.40 L627.44 219.67 L628.18 219.94 L628.92 220.21 L629.66 220.47 L630.40 220.74 L631.14 221.01 L631.88 221.28 L632.62 221.55 L633.36 221.81 L634.10 222.08 L634.84 222.35 L635.58 222.62 L636.32 222.89 L637.06 223.16 L637.80 223.43 L638.54 223.70 L639.28 223.97 L640.02 224.24 L640.76 224.51 L641.50 224.79 L642.24 225.06 L642.98 225.33 L643.72 225.60 L644.46 225.88 L645.20 226.15 L645.94 226.42 L646.68 226.70 L647.42 226.97 L648.16 227.25 L648.90 227.52 L649.64 227.80 L650.38 228.07 L651.12 228.35 L651.86 228.63 L652.60 228.91 L653.34 229.19 L654.08 229.46 L654.82 229.74 L655.56 230.03 L656.30 230.31 L657.04 230.59 L657.78 230.87 L658.52 231.16 L659.26 231.44 L660.00 231.73 L660.74 232.01 L661.48 232.30 L662.22 232.59 L662.96 232.88 L663.70 233.17 L664.44 233.46 L665.18 233.75 L665.92 234.05 L666.66 234.34 L667.40 234.64 L668.14 234.94 L668.88 235.24 L669.62 235.54 L670.36 235.84 L671.10 236.14 L671.84 236.45 L672.58 236.76 L673.32 237.06 L674.06 237.38 L674.80 237.69 L675.54 238.00 L676.28 238.32 L677.02 238.64 L677.76 238.96 L678.50 239.29 L679.24 239.61 L679.98 239.94 L680.72 240.28 L681.46 240.61 L682.20 240.95 L682.94 241.29 L683.68 241.64 L684.42 241.98 L685.16 242.33 L685.90 242.69 L686.64 243.05 L687.38 243.41 L688.12 243.78 L688.86 244.15 L689.60 244.53 L690.34 244.91 L691.08 245.29 L691.82 245.68 L692.56 246.08 L693.30 246.48 L694.04 246.89 L694.78 247.30 L695.52 247.72 L696.26 248.15 L697.00 248.58 L697.74 249.02 L698.48 249.47 L699.22 249.92 L699.96 250.38 L700.70 250.85 L701.44 251.33 L702.18 251.82 L702.92 252.32 L703.66 252.83 L704.40 253.35 L705.14 253.88 L705.88 254.41 L706.62 254.97 L707.36 255.53 L708.10 256.11 L708.84 256.69 L709.58 257.30 L710.32 257.91 L711.06 258.55 L711.80 259.19 L712.54 259.86 L713.28 260.53 L714.02 261.23 L714.76 261.95 L715.50 262.68 L716.24 263.43 L716.98 264.21 L717.72 265.00 L718.46 265.82 L719.20 266.66 L719.94 267.53 L720.68 268.42 L721.42 269.33 L722.16 270.28 L722.90 271.25 L723.64 272.25 L724.38 273.28 L725.12 274.35 L725.86 275.44 L726.60 276.58 L727.34 277.74 L728.08 278.95 L728.82 280.20 L729.56 281.48 L730.30 282.81 L731.04 284.19 L731.78 285.61 L732.52 287.08 L733.26 288.60 L734.00 290.17 L734.74 291.80 L735.48 293.48 L736.22 295.22 L736.96 297.03 L737.70 298.90 L738.44 300.84 L739.18 302.84 L739.92 304.92 L740.66 307.08 L741.40 309.31 L742.14 311.63 L742.88 314.03 L743.62 316.52 L744.36 319.10 L745.10 321.79 L745.84 324.57 L746.58 327.46 L747.32 330.45 L748.06 333.57 L748.80 336.80 L749.54 340.15 L750.28 343.63 L751.02 347.25 L751.76 351.01 L752.50 354.92 L753.24 358.97 L753.98 363.19 L754.72 367.57 L755.46 372.12 L756.20 376.85 L756.94 381.77 L757.68 386.88 L758.42 392.20 L759.16 397.72 L759.90 403.47 L760.64 409.45 L761.38 415.66 L762.12 422.12 L762.86 428.84 L763.60 435.84 L764.34 443.11 L765.08 450.67 L765.82 458.54 L766.56 466.73 L767.30 475.25 L768.04 484.12 L768.78 493.34 L769.52 502.94 L770.26 512.93 L771.00 523.32 L771.74 534.14 L772.48 545.40 L773.22 557.12 L773.96 569.31 L774.70 582.01" stroke="#0000ff"/>
<path d="M138.30 3.56 L139.04 3.85 L139.78 4.15 L140.52 4.44 L141.26 4.74 L142.00 5.03 L142.74 5.32 L143.48 5.62 L144.22 5.91 L144.96 6.21 L145.70 6.50 L146.44 6.79 L147.18 7.09 L147.92 7.38 L148.66 7.68 L149.40 7.97 L150.14 8.27 L150.88 8.56 L151.62 8.85 L152.36 9.15 L153.10 9.44 L153.84 9.74 L154.58 10.03 L155.32 10.32 L156.06 10.62 L156.80 10.91 L157.54 11.21 L158.28 11.50 L159.02 11.80 L159.76 12.09 L160.50 12.38 L161.24 12.68 L161.98 12.97 L162.72 13.27 L163.46 13.56 L164.20 13.85 L164.94 14.15 L165.68 14.44 L166.42 14.74 L167.16 15.03 L167.90 15.32 L168.64 15.62 L169.38 15.91 L170.12 16.21 L170.86 16.50 L171.60 16.80 L172.34 17.09 L173.08 17.38 L173.82 17.68 L174.56 17.97 L175.30 18.27 L176.04 18.56 L176.78 18.85 L177.52 19.15 L178.26 19.44 L179.00 19.74 L179.74 20.03 L180.48 20.33 L181.22 20.62 L181.96 20.91 L182.70 21.21 L183.44 21.50 L184.18 21.80 L184.92 22.09 L185.66 22.38 L186.40 22.68 L187.14 22.97 L187.88 23.27 L188.62 23.56 L189.36 23.86 L190.10 24.15 L190.84 24.44 L191.58 24.74 L192.32 25.03 L193.06 25.33 L193.80 25.62 L194.54 25.91 L195.28 26.21 L196.02 26.50 L196.76 26.80 L197.50 27.09 L198.24 27.39 L198.98 27.68 L199.72 27.97 L200.46 28.27 L201.20 28.56 L201.94 28.86 L202.68 29.15 L203.42 29.44 L204.16 29.74 L204.90 30.03 L205.64 30.33 L206.38 30.62 L207.12 30.91 L207.86 31.21 L208.60 31.50 L209.34 31.80 L210.08 32.09 L210.82 32.39 L211.56 32.68 L212.30 32.97 L213.04 33.27 L213.78 33.56 L214.52 33.86 L215.26 34.15 L216.00 34.44 L216.74 34.74 L217.48 35.03 L218.22 35.33 L218.96 35.62 L219.70 35.92 L220.44 36.21 L221.18 36.50 L221.92 36.80 L222.66 37.09 L223.40 37.39 L224.14 37.68 L224.88 37.97 L225.62 38.27 L226.36 38.56 L227.10 38.86 L227.84 39.15 L228.58 39.45 L229.32 39.74 L230.06 40.03 L230.80 40.33 L231.54 40.62 L232.28 40.92 L233.02 41.21 L233.76 41.50 L234.50 41.80 L235.24 42.09 L235.98 42.39 L236.72 42.68 L237.46 42.98 L238.20 43.27 L238.94 43.56 L239.68 43.86 L240.42 44.15 L241.16 44.45 L241.90 44.74 L242.64 45.03 L243.38 45.33 L244.12 45.62 L244.86 45.92 L245.60 46.21 L246.34 46.50 L247.08 46.80 L247.82 47.09 L248.56 47.39 L249.30 47.68 L250.04 47.98 L250.78 48.27 L251.52 48.56 L252.26 48.86 L253.00 49.15 L253.74 49.45 L254.48 49.74 L255.22 50.03 L255.96 50.33 L256.70 50.62 L257.44 50.92 L258.18 51.21 L258.92 51.51 L259.66 51.80 L260.40 52.09 L261.14 52.39 L261.88 52.68 L262.62 52.98 L263.36 53.27 L264.10 53.56 L264.84 53.86 L265.58 54.15 L266.32 54.45 L267.06 54.74 L267.80 55.04 L268.54 55.33 L269.28 55.62 L270.02 55.92 L270.76 56.21 L271.50 56.51 L272.24 56.80 L272.98 57.09 L273.72 57.39 L274.46 57.68 L275.20 57.98 L275.94 58.27 L276.68 58.57 L277.42 58.86 L278.16 59.15 L278.90 59.45 L279.64 59.74 L280.38 60.04 L281.12 60.33 L281.86 60.62 L282.60 60.92 L283.34 61.21 L284.08 61.51 L284.82 61.80 L285.56 62.09 L286.30 62.39 L287.04 62.68 L287.78 62.98 L288.52 63.27 L289.26 63.57 L290.00 63.86 L290.74 64.15 L291.48 64.45 L292.22 64.74 L292.96 65.04 L293.70 65.33 L294.44 65.62 L295.18 65.92 L295.92 66.21 L296.66 66.51 L297.40 66.80 L298.14 67.10 L298.88 67.39 L299.62 67.68 L300.36 67.98 L301.10 68.27 L301.84 68.57 L302.58 68.86 L303.32 69.15 L304.06 69.45 L304.80 69.74 L305.54 70.04 L306.28 70.33 L307.02 70.63 L307.76 70.92 L308.50 71.21 L309.24 71.51 L309.98 71.80 L310.72 72.10 L311.46 72.39 L312.20 72.68 L312.94 72.98 L313.68 73.27 L314.42 73.57 L315.16 73.86 L315.90 74.15 L316.64 74.45 L317.38 74.74 L318.12 75.04 L318.86 75.33 L319.60 75.63 L320.34 75.92 L321.08 76.21 L321.82 76.51 L322.56 76.80 L323.30 77.10 L324.04 77.39 L324.78 77.68 L325.52 77.98 L326.26 78.27 L327.00 78.57 L327.74 78.86 L328.48 79.16 L329.22 79.45 L329.96 79.74 L330.70 80.04 L331.44 80.33 L332.18 80.63 L332.92 80.92 L333.66 81.21 L334.40 81.51 L335.14 81.80 L335.88 82.10 L336.62 82.39 L337.36 82.69 L338.10 82.98 L338.84 83.27 L339.58 83.57 L340.32 83.86 L341.06 84.16 L341.80 84.45 L342.54 84.74 L343.28 85.04 L344.02 85.33 L344.76 85.63 L345.50 85.92 L346.24 86.22 L346.98 86.51 L347.72 86.80 L348.46 87.10 L349.20 87.39 L349.94 87.69 L350.68 87.98 L351.42 88.27 L352.16 88.57 L352.90 88.86 L353.64 89.16 L354.38 89.45 L355.12 89.74 L355.86 90.04 L356.60 90.33 L357.34 90.63 L358.08 90.92 L358.82 91.22 L359.56 91.51 L360.30 91.80 L361.04 92.10 L361.78 92.39 L362.52 92.69 L363.26 92.98 L364.00 93.27 L364.74 93.57 L365.48 93.86 L366.22 94.16 L366.96 94.45 L367.70 94.75 L368.44 95.04 L369.18 95.33 L369.92 95.63 L370.66 95.92 L371.40 96.22 L372.14 96.51 L372.88 96.80 L373.62 97.10 L374.36 97.39 L375.10 97.69 L375.84 97.98 L376.58 98.28 L377.32 98.57 L378.06 98.86 L378.80 99.16 L379.54 99.45 L380.28 99.75 L381.02 100.04 L381.76 100.33 L382.50 100.63 L383.24 100.92 L383.98 101.22 L384.72 101.51 L385.46 101.81 L386.20 102.10 L386.94 102.39 L387.68 102.69 L388.42 102.98 L389.16 103.28 L389.90 103.57 L390.64 103.86 L391.38 104.16 L392.12 104.45 L392.86 104.75 L393.60 105.04 L394.34 105.33 L395.08 105.63 L395.82 105.92 L396.56 106.22 L397.30 106.51 L398.04 106.81 L398.78 107.10 L399.52 107.39 L400.26 107.69 L401.00 107.98 L401.74 108.28 L402.48 108.57 L403.22 108.86 L403.96 109.16 L404.70 109.45 L405.44 109.75 L406.18 110.04 L406.92 110.34 L407.66 110.63 L408.40 110.92 L409.14 111.22 L409.88 111.51 L410.62 111.81 L411.36 112.10 L412.10 112.39 L412.84 112.69 L413.58 112.98 L414.32 113.28 L415.06 113.57 L415.80 113.87 L416.54 114.16 L417.28 114.45 L418.02 114.75 L418.76 115.04 L419.50 115.34 L420.24 115.63 L420.98 115.92 L421.72 116.22 L422.46 116.51 L423.20 116.81 L423.94 117.10 L424.68 117.40 L425.42 117.69 L426.16 117.98 L426.90 118.28 L427.64 118.57 L428.38 118.87 L429.12 119.16 L429.86 119.45 L430.60 119.75 L431.34 120.04 L432.08 120.34 L432.82 120.63 L433.56 120.92 L434.30 121.22 L435.04 121.51 L435.78 121.81 L436.52 122.10 L437.26 122.40 L438.00 122.69 L438.74 122.98 L439.48 123.28 L440.22 123.57 L440.96 123.87 L441.70 124.16 L442.44 124.45 L443.18 124.75 L443.92 125.04 L444.66 125.34 L445.40 125.63 L446.14 125.93 L446.88 126.22 L447.62 126.51 L448.36 126.81 L449.10 127.10 L449.84 127.40 L450.58 127.69 L451.32 127.98 L452.06 128.28 L452.80 128.57 L453.54 128.87 L454.28 129.16 L455.02 129.46 L455.76 129.75 L456.50 130.04 L457.24 130.34 L457.98 130.63 L458.72 130.93 L459.46 131.22 L460.20 131.51 L460.94 131.81 L461.68 132.10 L462.42 132.40 L463.16 132.69 L463.90 132.99 L464.64 133.28 L465.38 133.57 L466.12 133.87 L466.86 134.16 L467.60 134.46 L468.34 134.75 L469.08 135.04 L469.82 135.34 L470.56 135.63 L471.30 135.93 L472.04 136.22 L472.78 136.51 L473.52 136.81 L474.26 137.10 L475.00 137.40 L475.74 137.69 L476.48 137.99 L477.22 138.28 L477.96 138.57 L478.70 138.87 L479.44 139.16 L480.18 139.46 L480.92 139.75 L481.66 140.04 L482.40 140.34 L483.14 140.63 L483.88 140.93 L484.62 141.22 L485.36 141.52 L486.10 141.81 L486.84 142.10 L487.58 142.40 L488.32 142.69 L489.06 142.99 L489.80 143.28 L490.54 143.57 L491.28 143.87 L492.02 144.16 L492.76 144.46 L493.50 144.75 L494.24 145.05 L494.98 145.34 L495.72 145.63 L496.46 145.93 L497.20 146.22 L497.94 146.52 L498.68 146.81 L499.42 147.10 L500.16 147.40 L500.90 147.69 L501.64 147.99 L502.38 148.28 L503.12 148.58 L503.86 148.87 L504.60 149.16 L505.34 149.46 L506.08 149.75 L506.82 150.05 L507.56 150.34 L508.30 150.63 L509.04 150.93 L509.78 151.22 L510.52 151.52 L511.26 151.81 L512.00 152.11 L512.74 152.40 L513.48 152.69 L514.22 152.99 L514.96 153.28 L515.70 153.58 L516.44 153.87 L517.18 154.17 L517.92 154.46 L518.66 154.75 L519.40 155.05 L520.14 155.34 L520.88 155.64 L521.62 155.93 L522.36 156.22 L523.10 156.52 L523.84 156.81 L524.58 157.11 L525.32 157.40 L526.06 157.70 L526.80 157.99 L527.54 158.28 L528.28 158.58 L529.02 158.87 L529.76 159.17 L530.50 159.46 L531.24 159.75 L531.98 160.05 L532.72 160.34 L533.46 160.64 L534.20 160.93 L534.94 161.23 L535.68 161.52 L536.42 161.81 L537.16 162.11 L537.90 162.40 L538.64 162.70 L539.38 162.99 L540.12 163.29 L540.86 163.58 L541.60 163.87 L542.34 164.17 L543.08 164.46 L543.82 164.76 L544.56 165.05 L545.30 165.35 L546.04 165.64 L546.78 165.93 L547.52 166.23 L548.26 166.52 L549.00 166.82 L549.74 167.11 L550.48 167.41 L551.22 167.70 L551.96 167.99 L552.70 168.29 L553.44 168.58 L554.18 168.88 L554.92 169.17 L555.66 169.47 L556.40 169.76 L557.14 170.05 L557.88 170.35 L558.62 170.64 L559.36 170.94 L560.10 171.23 L560.84 171.53 L561.58 171.82 L562.32 172.12 L563.06 172.41 L563.80 172.70 L564.54 173.00 L565.28 173.29 L566.02 173.59 L566.76 173.88 L567.50 174.18 L568.24 174.47 L568.98 174.77 L569.72 175.06 L570.46 175.35 L571.20 175.65 L571.94 175.94 L572.68 176.24 L573.42 176.53 L574.16 176.83 L574.90 177.12 L575.64 177.42 L576.38 177.71 L577.12 178.01 L577.86 178.30 L578.60 178.59 L579.34 178.89 L580.08 179.18 L580.82 179.48 L581.56 179.77 L582.30 180.07 L583.04 180.36 L583.78 180.66 L584.52 180.95 L585.26 181.25 L586.00 181.54 L586.74 181.84 L587.48 182.13 L588.22 182.43 L588.96 182.72 L589.70 183.02 L590.44 183.31 L591.18 183.61 L591.92 183.90 L592.66 184.20 L593.40 184.49 L594.14 184.79 L594.88 185.08 L595.62 185.38 L596.36 185.67 L597.10 185.97 L597.84 186.26 L598.58 186.56 L599.32 186.85 L600.06 187.15 L600.80 187.44 L601.54 187.74 L602.28 188.03 L603.02 188.33 L603.76 188.63 L604.50 188.92 L605.24 189.22 L605.98 189.51 L606.72 189.81 L607.46 190.10 L608.20 190.40 L608.94 190.70 L609.68 190.99 L610.42 191.29 L611.16 191.58 L611.90 191.88 L612.64 192.18 L613.38 192.47 L614.12 192.77 L614.86 193.06 L615.60 193.36 L616.34 193.66 L617.08 193.95 L617.82 194.25 L618.56 194.55 L619.30 194.84 L620.04 195.14 L620.78 195.44 L621.52 195.73 L622.26 196.03 L623.00 196.33 L623.74 196.63 L624.48 196.92 L625.22 197.22 L625.96 197.52 L626.70 197.82 L627.44 198.11 L628.18 198.41 L628.92 198.71 L629.66 199.01 L630.40 199.31 L631.14 199.61 L631.88 199.90 L632.62 200.20 L633.36 200.50 L634.10 200.80 L634.84 201.10 L635.58 201.40 L636.32 201.70 L637.06 202.00 L637.80 202.30 L638.54 202.60 L639.28 202.90 L640.02 203.20 L640.76 203.50 L641.50 203.80 L642.24 204.10 L642.98 204.40 L643.72 204.70 L644.46 205.01 L645.20 205.31 L645.94 205.61 L646.68 205.91 L647.42 206.21 L648.16 206.52 L648.90 206.82 L649.64 207.12 L650.38 207.43 L651.12 207.73 L651.86 208.04 L652.60 208.34 L653.34 208.65 L654.08 208.95 L654.82 209.26 L655.56 209.56 L656.30 209.87 L657.04 210.18 L657.78 210.48 L658.52 210.79 L659.26 211.10 L660.00 211.41 L660.74 211.72 L661.48 212.03 L662.22 212.34 L662.96 212.65 L663.70 212.96 L664.44 213.27 L665.18 213.58 L665.92 213.89 L666.66 214.21 L667.40 214.52 L668.14 214.83 L668.88 215.15 L669.62 215.46 L670.36 215.78 L671.10 216.10 L671.84 216.41 L672.58 216.73 L673.32 217.05 L674.06 217.37 L674.80 217.69 L675.54 218.01 L676.28 218.34 L677.02 218.66 L677.76 218.98 L678.50 219.31 L679.24 219.63 L679.98 219.96 L680.72 220.29 L681.46 220.62 L682.20 220.95 L682.94 221.28 L683.68 221.61 L684.42 221.94 L685.16 222.28 L685.90 222.62 L686.64 222.95 L687.38 223.29 L688.12 223.63 L688.86 223.97 L689.60 224.32 L690.34 224.66 L691.08 225.01 L691.82 225.35 L692.56 225.70 L693.30 226.05 L694.04 226.41 L694.78 226.76 L695.52 227.12 L696.26 227.48 L697.00 227.84 L697.74 228.20 L698.48 228.57 L699.22 228.93 L699.96 229.30 L700.70 229.67 L701.44 230.05 L702.18 230.42 L702.92 230.80 L703.66 231.18 L704.40 231.57 L705.14 231.96 L705.88 232.35 L706.62 232.74 L707.36 233.14 L708.10 233.53 L708.84 233.94 L709.58 234.34 L710.32 234.75 L711.06 235.17 L711.80 235.58 L712.54 236.00 L713.28 236.43 L714.02 236.86 L714.76 237.29 L715.50 237.73 L716.24 238.17 L716.98 238.62 L717.72 239.07 L718.46 239.52 L719.20 239.98 L719.94 240.45 L720.68 240.92 L721.42 241.40 L722.16 241.88 L722.90 242.37 L723.64 242.86 L724.38 243.36 L725.12 243.87 L725.86 244.39 L726.60 244.91 L727.34 245.43 L728.08 245.97 L728.82 246.51 L729.56 247.06 L730.30 247.62 L731.04 248.19 L731.78 248.76 L732.52 249.35 L733.26 249.94 L734.00 250.54 L734.74 251.15 L735.48 251.78 L736.22 252.41 L736.96 253.05 L737.70 253.70 L738.44 254.37 L739.18 255.05 L739.92 255.73 L740.66 256.43 L741.40 257.15 L742.14 257.87 L742.88 258.61 L743.62 259.37 L744.36 260.13 L745.10 260.92 L745.84 261.71 L746.58 262.53 L747.32 263.36 L748.06 264.20 L748.80 265.07 L749.54 265.95 L750.28 266.85 L751.02 267.77 L751.76 268.71 L752.50 269.66 L753.24 270.64 L753.98 271.64 L754.72 272.66 L755.46 273.71 L756.20 274.78 L756.94 275.87 L757.68 276.99 L758.42 278.13 L759.16 279.30 L759.90 280.50 L760.64 281.72 L761.38 282.98 L762.12 284.26 L762.86 285.57 L763.60 286.92 L764.34 288.30 L765.08 289.71 L765.82 291.16 L766.56 292.64 L767.30 294.17 L768.04 295.72 L768.78 297.32 L769.52 298.96 L770.26 300.64 L771.00 302.37 L771.74 304.14 L772.48 305.95 L773.22 307.82 L773.96 309.73 L774.70 311.69 L775.44 313.70 L776.18 315.77 L776.92 317.89 L777.66 320.07 L778.40 322.31 L779.14 324.61 L779.88 326.97 L780.62 329.40 L781.36 331.89 L782.10 334.45 L782.84 337.09 L783.58 339.79 L784.32 342.57 L785.06 345.43 L785.80 348.37 L786.54 351.39 L787.28 354.49 L788.02 357.68 L788.76 360.97 L789.50 364.34 L790.24 367.81 L790.98 371.38 L791.72 375.06 L792.46 378.84 L793.20 382.72 L793.94 386.72 L794.68 390.84 L795.42 395.07 L796.16 399.43 L796.90 403.91 L797.64 408.53 L798.38 413.27 L799.12 418.16 L799.86 423.19 L800.60 428.37 L801.34 433.70 L802.08 439.19 L802.82 444.84 L803.56 450.66 L804.30 456.65" stroke="#000"/>
</g>
<path d="M221.55 275.31 H288.15" stroke="#000" stroke-width="1.85" fill="none"/>
<path d="M221.55 318.77 H288.15" stroke="#ffa500" stroke-width="1.85" fill="none"/>
<path d="M221.55 340.50 H288.15" stroke="#ff0000" stroke-width="1.85" fill="none"/>
<path d="M221.55 369.48 H288.15" stroke="#00ff00" stroke-width="1.85" fill="none"/>
<path d="M221.55 391.21 H288.15" stroke="#0000ff" stroke-width="1.85" fill="none"/>
<path d="M221.55 434.68 H288.15" stroke="#ffa500" stroke-width="1.85" fill="none" stroke-dasharray="8.6 8.03"/>
<path d="M221.55 456.41 H288.15" stroke="#ffa500" stroke-width="1.85" fill="none"/>
<path d="M221.55 478.15 H288.15" stroke="#ffa500" stroke-width="1.85" fill="none" stroke-dasharray="1.8 4.03"/>
<path d="M370.05 9.25 L368.83 8.03 L367.00 7.42 L364.57 7.42 L362.74 8.03 L361.52 9.25 L361.52 10.46 L362.13 11.68 L362.74 12.29 L363.96 12.90 L367.61 14.11 L368.83 14.72 L369.44 15.33 L370.05 16.55 L370.05 18.37 L368.83 19.59 L367.00 20.20 L364.57 20.20 L362.74 19.59 L361.52 18.37 M381.00 11.68 L381.00 20.20 M374.31 11.68 L374.31 17.77 L374.91 19.59 L376.13 20.20 L377.96 20.20 L379.17 19.59 L381.00 17.77 M385.87 7.42 L385.87 20.20 M385.87 13.51 L387.09 12.29 L388.30 11.68 L390.13 11.68 L391.35 12.29 L392.56 13.51 L393.17 15.33 L393.17 16.55 L392.56 18.37 L391.35 19.59 L390.13 20.20 L388.30 20.20 L387.09 19.59 L385.87 18.37 M397.43 7.42 L397.43 20.20 M397.43 14.11 L399.26 12.29 L400.48 11.68 L402.30 11.68 L403.52 12.29 L404.13 14.11 L404.13 20.20 M415.69 11.68 L415.69 20.20 M415.69 13.51 L414.47 12.29 L413.26 11.68 L411.43 11.68 L410.21 12.29 L409.00 13.51 L408.39 15.33 L408.39 16.55 L409.00 18.37 L410.21 19.59 L411.43 20.20 L413.26 20.20 L414.47 19.59 L415.69 18.37 M420.56 7.42 L420.56 20.20 M432.73 16.55 L432.73 15.33 L432.12 13.51 L430.91 12.29 L429.69 11.68 L427.86 11.68 L426.65 12.29 L425.43 13.51 L424.82 15.33 L424.82 16.55 L425.43 18.37 L426.65 19.59 L427.86 20.20 L429.69 20.20 L430.91 19.59 L432.12 18.37 L432.73 16.55 M446.73 20.20 L446.73 7.42 M446.73 7.42 L451.60 20.20 M451.60 20.20 L456.47 7.42 M456.47 7.42 L456.47 20.20 M468.03 11.68 L468.03 20.20 M468.03 13.51 L466.81 12.29 L465.60 11.68 L463.77 11.68 L462.55 12.29 L461.34 13.51 L460.73 15.33 L460.73 16.55 L461.34 18.37 L462.55 19.59 L463.77 20.20 L465.60 20.20 L466.81 19.59 L468.03 18.37 M478.98 13.51 L478.38 12.29 L476.55 11.68 L474.72 11.68 L472.90 12.29 L472.29 13.51 L472.90 14.72 L474.12 15.33 L477.16 15.94 L478.38 16.55 L478.98 17.77 L478.98 18.37 L478.38 19.59 L476.55 20.20 L474.72 20.20 L472.90 19.59 L472.29 18.37 M489.33 13.51 L488.72 12.29 L486.90 11.68 L485.07 11.68 L483.24 12.29 L482.64 13.51 L483.24 14.72 L484.46 15.33 L487.51 15.94 L488.72 16.55 L489.33 17.77 L489.33 18.37 L488.72 19.59 L486.90 20.20 L485.07 20.20 L483.24 19.59 L482.64 18.37 M511.24 7.42 L503.33 7.42 L503.33 20.20 M503.33 13.51 L508.20 13.51 M520.98 11.68 L520.98 20.20 M514.28 11.68 L514.28 17.77 L514.89 19.59 L516.11 20.20 L517.94 20.20 L519.15 19.59 L520.98 17.77 M525.85 11.68 L525.85 20.20 M525.85 14.11 L527.67 12.29 L528.89 11.68 L530.72 11.68 L531.93 12.29 L532.54 14.11 L532.54 20.20 M544.10 13.51 L542.89 12.29 L541.67 11.68 L539.84 11.68 L538.63 12.29 L537.41 13.51 L536.80 15.33 L536.80 16.55 L537.41 18.37 L538.63 19.59 L539.84 20.20 L541.67 20.20 L542.89 19.59 L544.10 18.37 M548.97 7.42 L548.97 17.77 L549.58 19.59 L550.80 20.20 L552.02 20.20 M547.15 11.68 L551.41 11.68 M555.67 11.68 L555.67 20.20 M556.28 7.42 L555.67 6.81 L555.06 7.42 L555.67 8.03 L556.28 7.42 M567.84 16.55 L567.84 15.33 L567.23 13.51 L566.01 12.29 L564.80 11.68 L562.97 11.68 L561.75 12.29 L560.54 13.51 L559.93 15.33 L559.93 16.55 L560.54 18.37 L561.75 19.59 L562.97 20.20 L564.80 20.20 L566.01 19.59 L567.23 18.37 L567.84 16.55 M572.10 11.68 L572.10 20.20 M572.10 14.11 L573.93 12.29 L575.14 11.68 L576.97 11.68 L578.19 12.29 L578.80 14.11 L578.80 20.20 M126.84 557.27 L137.32 557.27 M150.12 558.41 L141.39 558.41 L147.21 550.43 M147.21 550.43 L147.21 562.40 M293.34 557.27 L303.82 557.27 M309.06 550.43 L315.46 550.43 L311.97 554.99 L313.71 554.99 L314.88 555.56 L315.46 556.13 L316.04 557.84 L316.04 558.98 L315.46 560.69 L314.29 561.83 L312.55 562.40 L310.80 562.40 L309.06 561.83 L308.47 561.26 L307.89 560.12 M459.84 557.27 L470.32 557.27 M474.97 553.28 L474.97 552.71 L475.56 551.57 L476.14 551.00 L477.30 550.43 L479.63 550.43 L480.79 551.00 L481.38 551.57 L481.96 552.71 L481.96 553.85 L481.38 554.99 L480.21 556.70 L474.39 562.40 M474.39 562.40 L482.54 562.40 M626.34 557.27 L636.82 557.27 M642.64 552.71 L643.80 552.14 L645.55 550.43 M645.55 550.43 L645.55 562.40 M807.97 557.27 L807.97 555.56 L807.39 552.71 L806.23 551.00 L804.48 550.43 L803.32 550.43 L801.57 551.00 L800.41 552.71 L799.83 555.56 L799.83 557.27 L800.41 560.12 L801.57 561.83 L803.32 562.40 L804.48 562.40 L806.23 561.83 L807.39 560.12 L807.97 557.27 M107.91 530.77 L118.38 530.77 M131.19 531.91 L122.46 531.91 L128.28 523.93 M128.28 523.93 L128.28 535.90 M107.91 465.43 L118.38 465.43 M123.62 458.59 L130.02 458.59 L126.53 463.15 L128.28 463.15 L129.44 463.72 L130.02 464.29 L130.60 466.00 L130.60 467.14 L130.02 468.85 L128.86 469.99 L127.11 470.56 L125.37 470.56 L123.62 469.99 L123.04 469.42 L122.46 468.28 M107.91 392.98 L118.38 392.98 M123.04 388.99 L123.04 388.42 L123.62 387.28 L124.20 386.71 L125.37 386.14 L127.69 386.14 L128.86 386.71 L129.44 387.28 L130.02 388.42 L130.02 389.56 L129.44 390.70 L128.28 392.41 L122.46 398.11 M122.46 398.11 L130.60 398.11 M107.91 320.54 L118.38 320.54 M124.20 315.98 L125.37 315.41 L127.11 313.70 M127.11 313.70 L127.11 325.67 M130.60 248.10 L130.60 246.39 L130.02 243.54 L128.86 241.83 L127.11 241.26 L125.95 241.26 L124.20 241.83 L123.04 243.54 L122.46 246.39 L122.46 248.10 L123.04 250.95 L124.20 252.66 L125.95 253.23 L127.11 253.23 L128.86 252.66 L130.02 250.95 L130.60 248.10 M124.20 171.10 L125.37 170.53 L127.11 168.82 M127.11 168.82 L127.11 180.79 M123.04 99.22 L123.04 98.65 L123.62 97.51 L124.20 96.94 L125.37 96.37 L127.69 96.37 L128.86 96.94 L129.44 97.51 L130.02 98.65 L130.02 99.79 L129.44 100.93 L128.28 102.64 L122.46 108.34 M122.46 108.34 L130.60 108.34 M123.62 29.03 L130.02 29.03 L126.53 33.59 L128.28 33.59 L129.44 34.16 L130.02 34.73 L130.60 36.44 L130.60 37.58 L130.02 39.29 L128.86 40.43 L127.11 41.00 L125.37 41.00 L123.62 40.43 L123.04 39.86 L122.46 38.72 M430.10 573.43 L430.10 585.40 M441.80 581.98 L441.80 580.84 L441.22 579.13 L440.05 577.99 L438.88 577.42 L437.12 577.42 L435.95 577.99 L434.78 579.13 L434.20 580.84 L434.20 581.98 L434.78 583.69 L435.95 584.83 L437.12 585.40 L438.88 585.40 L440.05 584.83 L441.22 583.69 L441.80 581.98 M452.33 577.42 L452.33 586.54 L451.75 588.25 L451.16 588.82 L449.99 589.39 L448.24 589.39 L447.06 588.82 M452.33 579.13 L451.16 577.99 L449.99 577.42 L448.24 577.42 L447.06 577.99 L445.90 579.13 L445.31 580.84 L445.31 581.98 L445.90 583.69 L447.06 584.83 L448.24 585.40 L449.99 585.40 L451.16 584.83 L452.33 583.69 M466.37 577.42 L466.37 585.40 M479.24 585.40 L479.24 579.70 L478.66 577.99 L477.49 577.42 L475.73 577.42 L474.56 577.99 L472.81 579.70 L472.81 585.40 M472.81 579.70 L472.22 577.99 L471.05 577.42 L469.30 577.42 L468.12 577.99 L466.37 579.70 M493.28 571.15 L482.75 589.39 M496.79 585.40 L496.79 573.43 M496.79 573.43 L501.47 585.40 M501.47 585.40 L506.15 573.43 M506.15 573.43 L506.15 585.40 M509.52 582.98 L509.52 588.25 M513.12 582.98 L513.12 588.25 M509.52 585.49 L513.12 585.49 M77.33 377.10 L89.30 377.10 M85.88 365.40 L84.74 365.40 L83.03 365.99 L81.89 367.16 L81.32 368.33 L81.32 370.08 L81.89 371.25 L83.03 372.42 L84.74 373.00 L85.88 373.00 L87.59 372.42 L88.73 371.25 L89.30 370.08 L89.30 368.33 L88.73 367.16 L87.59 365.99 L85.88 365.40 M81.32 354.87 L90.44 354.87 L92.15 355.46 L92.72 356.04 L93.29 357.21 L93.29 358.97 L92.72 360.14 M83.03 354.87 L81.89 356.04 L81.32 357.21 L81.32 358.97 L81.89 360.14 L83.03 361.31 L84.74 361.89 L85.88 361.89 L87.59 361.31 L88.73 360.14 L89.30 358.97 L89.30 357.21 L88.73 356.04 L87.59 354.87 M89.30 340.83 L77.33 340.83 M77.33 340.83 L89.30 332.64 M89.30 332.64 L77.33 332.64 M75.05 323.87 L76.19 325.04 L77.90 326.21 L80.18 327.38 L83.03 327.96 L85.31 327.96 L88.16 327.38 L90.44 326.21 L92.15 325.04 L93.29 323.87 M77.33 319.77 L89.30 319.77 M85.88 308.07 L84.74 308.07 L83.03 308.66 L81.89 309.83 L81.32 311.00 L81.32 312.75 L81.89 313.92 L83.03 315.09 L84.74 315.68 L85.88 315.68 L87.59 315.09 L88.73 313.92 L89.30 312.75 L89.30 311.00 L88.73 309.83 L87.59 308.66 L85.88 308.07 M81.32 297.54 L90.44 297.54 L92.15 298.12 L92.72 298.71 L93.29 299.88 L93.29 301.64 L92.72 302.81 M83.03 297.54 L81.89 298.71 L81.32 299.88 L81.32 301.64 L81.89 302.81 L83.03 303.98 L84.74 304.56 L85.88 304.56 L87.59 303.98 L88.73 302.81 L89.30 301.64 L89.30 299.88 L88.73 298.71 L87.59 297.54 M81.32 283.50 L89.30 283.50 M89.30 270.63 L83.60 270.63 L81.89 271.22 L81.32 272.39 L81.32 274.14 L81.89 275.31 L83.60 277.07 L89.30 277.07 M83.60 277.07 L81.89 277.65 L81.32 278.82 L81.32 280.58 L81.89 281.75 L83.60 283.50 M75.05 266.54 L76.19 265.37 L77.90 264.20 L80.18 263.03 L83.03 262.44 L85.31 262.44 L88.16 263.03 L90.44 264.20 L92.15 265.37 L93.29 266.54 M75.05 244.31 L75.05 248.40 L93.29 248.40 L93.29 244.31 M89.30 240.21 L77.33 240.21 M77.33 240.21 L89.30 235.53 M89.30 235.53 L77.33 230.85 M77.33 230.85 L89.30 230.85 M81.32 226.17 L93.29 226.17 M83.03 226.17 L81.89 225.00 L81.32 223.83 L81.32 222.08 L81.89 220.91 L83.03 219.74 L84.74 219.15 L85.88 219.15 L87.59 219.74 L88.73 220.91 L89.30 222.08 L89.30 223.83 L88.73 225.00 L87.59 226.17 M83.03 208.62 L81.89 209.79 L81.32 210.96 L81.32 212.72 L81.89 213.89 L83.03 215.06 L84.74 215.64 L85.88 215.64 L87.59 215.06 L88.73 213.89 L89.30 212.72 L89.30 210.96 L88.73 209.79 L87.59 208.62 M79.06 205.84 L79.06 201.20 M76.05 198.89 L76.05 196.05 L78.06 197.60 L78.06 196.83 L78.31 196.31 L78.56 196.05 L79.31 195.80 L79.82 195.80 L80.57 196.05 L81.07 196.57 L81.32 197.34 L81.32 198.11 L81.07 198.89 L80.82 199.14 L80.32 199.40 M75.05 193.27 L75.05 189.17 L93.29 189.17 L93.29 193.27 M306.50 267.67 L306.50 275.70 L307.04 277.30 L308.11 278.37 L309.71 278.91 L310.78 278.91 L312.38 278.37 L313.46 277.30 L313.99 275.70 L313.99 267.67 M318.27 271.42 L318.27 278.91 M318.27 273.56 L319.88 271.95 L320.94 271.42 L322.55 271.42 L323.62 271.95 L324.16 273.56 L324.16 278.91 M333.25 271.95 L332.18 271.42 L330.57 271.42 L329.50 271.95 L328.44 273.02 L327.90 274.63 L334.32 274.63 L334.32 273.56 L333.79 272.49 L333.25 271.95 M327.90 274.63 L327.90 275.70 L328.44 277.30 L329.50 278.37 L330.57 278.91 L332.18 278.91 L333.25 278.37 L334.32 277.30 M337.00 271.42 L340.21 278.91 M340.21 278.91 L343.42 271.42 M353.05 275.70 L353.05 274.63 L352.51 273.02 L351.44 271.95 L350.37 271.42 L348.76 271.42 L347.69 271.95 L346.62 273.02 L346.09 274.63 L346.09 275.70 L346.62 277.30 L347.69 278.37 L348.76 278.91 L350.37 278.91 L351.44 278.37 L352.51 277.30 L353.05 275.70 M356.79 267.67 L356.79 278.91 M360.00 271.42 L363.21 278.91 M363.21 278.91 L366.42 271.42 M374.45 271.95 L373.38 271.42 L371.77 271.42 L370.70 271.95 L369.63 273.02 L369.10 274.63 L375.51 274.63 L375.51 273.56 L374.98 272.49 L374.45 271.95 M369.10 274.63 L369.10 275.70 L369.63 277.30 L370.70 278.37 L371.77 278.91 L373.38 278.91 L374.45 278.37 L375.51 277.30 M385.15 267.67 L385.15 278.91 M385.15 273.02 L384.08 271.95 L383.00 271.42 L381.40 271.42 L380.33 271.95 L379.26 273.02 L378.73 274.63 L378.73 275.70 L379.26 277.30 L380.33 278.37 L381.40 278.91 L383.00 278.91 L384.08 278.37 L385.15 277.30 M305.97 314.88 L311.85 314.88 L305.97 322.37 L311.85 322.37 M315.60 315.95 L325.23 315.95 M315.60 319.16 L325.23 319.16 M336.46 317.56 L336.46 315.95 L335.93 313.28 L334.86 311.67 L333.25 311.14 L332.18 311.14 L330.57 311.67 L329.50 313.28 L328.97 315.95 L328.97 317.56 L329.50 320.23 L330.57 321.84 L332.18 322.37 L333.25 322.37 L334.86 321.84 L335.93 320.23 L336.46 317.56 M305.97 336.61 L311.85 336.61 L305.97 344.10 L311.85 344.10 M315.60 337.68 L325.23 337.68 M315.60 340.89 L325.23 340.89 M330.57 335.01 L331.65 334.47 L333.25 332.87 M333.25 332.87 L333.25 344.10 M305.97 365.59 L311.85 365.59 L305.97 373.08 L311.85 373.08 M315.60 366.66 L325.23 366.66 M315.60 369.87 L325.23 369.87 M330.04 361.85 L335.93 361.85 L332.72 366.13 L334.32 366.13 L335.39 366.66 L335.93 367.20 L336.46 368.80 L336.46 369.87 L335.93 371.48 L334.86 372.55 L333.25 373.08 L331.65 373.08 L330.04 372.55 L329.50 372.01 L328.97 370.94 M305.97 387.32 L311.85 387.32 L305.97 394.81 L311.85 394.81 M315.60 388.39 L325.23 388.39 M315.60 391.60 L325.23 391.60 M335.93 385.18 L335.39 384.11 L333.79 383.58 L332.72 383.58 L331.11 384.11 L330.04 385.72 L329.50 388.39 L329.50 391.07 L330.04 393.21 L331.11 394.28 L332.72 394.81 L333.25 394.81 L334.86 394.28 L335.93 393.21 L336.46 391.60 L336.46 391.07 L335.93 389.46 L334.86 388.39 L333.25 387.86 L332.72 387.86 L331.11 388.39 L330.04 389.46 L329.50 391.07 M306.50 438.28 L306.50 427.05 M306.50 427.05 L310.78 438.28 M310.78 438.28 L315.06 427.05 M315.06 427.05 L315.06 438.28 M318.40 435.74 L318.40 440.69 M321.69 435.74 L321.69 440.69 M318.40 438.10 L321.69 438.10 M333.34 431.86 L342.97 431.86 M333.34 435.07 L342.97 435.07 M356.88 429.19 L357.95 428.65 L359.55 427.05 M359.55 427.05 L359.55 438.28 M373.46 433.47 L373.46 431.86 L372.93 429.19 L371.86 427.58 L370.25 427.05 L369.18 427.05 L367.58 427.58 L366.51 429.19 L365.97 431.86 L365.97 433.47 L366.51 436.14 L367.58 437.75 L369.18 438.28 L370.25 438.28 L371.86 437.75 L372.93 436.14 L373.46 433.47 M376.48 426.52 L376.95 426.29 L377.66 425.58 M377.66 425.58 L377.66 430.52 M380.72 426.76 L380.72 426.52 L380.95 426.05 L381.19 425.81 L381.66 425.58 L382.60 425.58 L383.07 425.81 L383.30 426.05 L383.54 426.52 L383.54 426.99 L383.30 427.46 L382.83 428.17 L380.48 430.52 M380.48 430.52 L383.78 430.52 M395.18 438.28 L395.18 427.05 M395.18 427.05 L399.46 438.28 M399.46 438.28 L403.74 427.05 M403.74 427.05 L403.74 438.28 M411.53 438.57 L411.35 437.67 L410.84 436.90 L410.08 436.39 L409.18 436.21 L408.28 436.39 L407.51 436.90 L407.00 437.67 L406.82 438.57 L407.00 439.47 L407.51 440.23 L408.28 440.74 L409.18 440.92 L410.08 440.74 L410.84 440.23 L411.35 439.47 L411.53 438.57 M409.46 438.57 L409.32 438.32 L409.04 438.32 L408.89 438.57 L409.04 438.81 L409.32 438.81 L409.46 438.57 M306.50 460.01 L306.50 448.78 M306.50 448.78 L310.78 460.01 M310.78 460.01 L315.06 448.78 M315.06 448.78 L315.06 460.01 M318.40 457.48 L318.40 462.42 M321.69 457.48 L321.69 462.42 M318.40 459.83 L321.69 459.83 M333.34 453.59 L342.97 453.59 M333.34 456.80 L342.97 456.80 M356.88 450.92 L357.95 450.38 L359.55 448.78 M359.55 448.78 L359.55 460.01 M373.46 455.20 L373.46 453.59 L372.93 450.92 L371.86 449.31 L370.25 448.78 L369.18 448.78 L367.58 449.31 L366.51 450.92 L365.97 453.59 L365.97 455.20 L366.51 457.87 L367.58 459.48 L369.18 460.01 L370.25 460.01 L371.86 459.48 L372.93 457.87 L373.46 455.20 M376.48 448.25 L376.95 448.02 L377.66 447.31 M377.66 447.31 L377.66 452.26 M380.95 447.31 L383.54 447.31 L382.13 449.20 L382.83 449.20 L383.30 449.43 L383.54 449.67 L383.78 450.37 L383.78 450.84 L383.54 451.55 L383.07 452.02 L382.36 452.26 L381.66 452.26 L380.95 452.02 L380.72 451.78 L380.48 451.31 M395.18 460.01 L395.18 448.78 M395.18 448.78 L399.46 460.01 M399.46 460.01 L403.74 448.78 M403.74 448.78 L403.74 460.01 M411.53 460.30 L411.35 459.40 L410.84 458.64 L410.08 458.13 L409.18 457.95 L408.28 458.13 L407.51 458.64 L407.00 459.40 L406.82 460.30 L407.00 461.20 L407.51 461.97 L408.28 462.48 L409.18 462.66 L410.08 462.48 L410.84 461.97 L411.35 461.20 L411.53 460.30 M409.46 460.30 L409.32 460.06 L409.04 460.06 L408.89 460.30 L409.04 460.55 L409.32 460.55 L409.46 460.30 M306.50 481.75 L306.50 470.51 M306.50 470.51 L310.78 481.75 M310.78 481.75 L315.06 470.51 M315.06 470.51 L315.06 481.75 M318.40 479.21 L318.40 484.15 M321.69 479.21 L321.69 484.15 M318.40 481.56 L321.69 481.56 M333.34 475.33 L342.97 475.33 M333.34 478.54 L342.97 478.54 M356.88 472.65 L357.95 472.12 L359.55 470.51 M359.55 470.51 L359.55 481.75 M373.46 476.93 L373.46 475.33 L372.93 472.65 L371.86 471.05 L370.25 470.51 L369.18 470.51 L367.58 471.05 L366.51 472.65 L365.97 475.33 L365.97 476.93 L366.51 479.61 L367.58 481.21 L369.18 481.75 L370.25 481.75 L371.86 481.21 L372.93 479.61 L373.46 476.93 M376.48 469.99 L376.95 469.75 L377.66 469.04 M377.66 469.04 L377.66 473.99 M384.01 472.34 L380.48 472.34 L382.83 469.04 M382.83 469.04 L382.83 473.99 M395.18 481.75 L395.18 470.51 M395.18 470.51 L399.46 481.75 M399.46 481.75 L403.74 470.51 M403.74 470.51 L403.74 481.75 M411.53 482.03 L411.35 481.13 L410.84 480.37 L410.08 479.86 L409.18 479.68 L408.28 479.86 L407.51 480.37 L407.00 481.13 L406.82 482.03 L407.00 482.94 L407.51 483.70 L408.28 484.21 L409.18 484.39 L410.08 484.21 L410.84 483.70 L411.35 482.94 L411.53 482.03 M409.46 482.03 L409.32 481.79 L409.04 481.79 L408.89 482.03 L409.04 482.28 L409.32 482.28 L409.46 482.03" fill="none" stroke="#000" stroke-width="1.4" stroke-linecap="butt" stroke-linejoin="bevel"/>
</svg></body></html>
